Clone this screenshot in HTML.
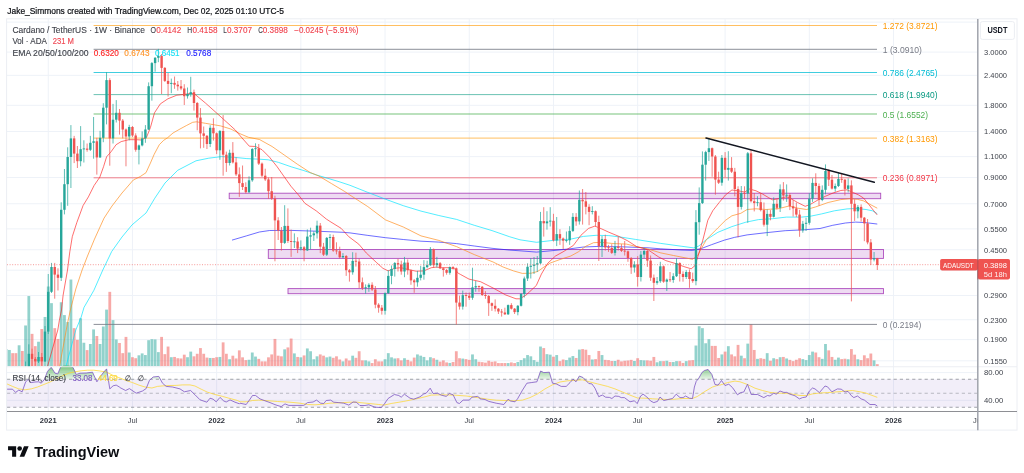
<!DOCTYPE html>
<html lang="en"><head><meta charset="utf-8"><title>ADAUSDT 1W chart</title>
<style>html,body{margin:0;padding:0;background:#fff}body{width:1024px;height:473px;overflow:hidden}svg{display:block}</style>
</head><body>
<svg width="1024" height="473" viewBox="0 0 1024 473" font-family='"Liberation Sans", sans-serif' shape-rendering="auto">
<defs>
<clipPath id="cpMain"><rect x="7" y="19.2" width="970.2" height="347.3"/></clipPath>
<clipPath id="cpRsi"><rect x="7" y="367" width="970.2" height="44"/></clipPath>
<clipPath id="cpOB"><rect x="7" y="360" width="970.2" height="19.25"/></clipPath>
<clipPath id="cpTime"><rect x="7" y="412" width="970.2" height="18"/></clipPath>
<linearGradient id="gOB" x1="0" y1="366" x2="0" y2="379.25" gradientUnits="userSpaceOnUse"><stop offset="0" stop-color="#4caf50" stop-opacity="0.75"/><stop offset="1" stop-color="#4caf50" stop-opacity="0.12"/></linearGradient>
</defs>
<rect width="1024" height="473" fill="#ffffff"/>
<line x1="48.25" y1="19.2" x2="48.25" y2="411" stroke="#eef2f8" stroke-width="1"/>
<line x1="132.45" y1="19.2" x2="132.45" y2="411" stroke="#eef2f8" stroke-width="1"/>
<line x1="216.65" y1="19.2" x2="216.65" y2="411" stroke="#eef2f8" stroke-width="1"/>
<line x1="300.85" y1="19.2" x2="300.85" y2="411" stroke="#eef2f8" stroke-width="1"/>
<line x1="385.05" y1="19.2" x2="385.05" y2="411" stroke="#eef2f8" stroke-width="1"/>
<line x1="469.25" y1="19.2" x2="469.25" y2="411" stroke="#eef2f8" stroke-width="1"/>
<line x1="553.46" y1="19.2" x2="553.46" y2="411" stroke="#eef2f8" stroke-width="1"/>
<line x1="637.66" y1="19.2" x2="637.66" y2="411" stroke="#eef2f8" stroke-width="1"/>
<line x1="725.10" y1="19.2" x2="725.10" y2="411" stroke="#eef2f8" stroke-width="1"/>
<line x1="809.30" y1="19.2" x2="809.30" y2="411" stroke="#eef2f8" stroke-width="1"/>
<line x1="893.50" y1="19.2" x2="893.50" y2="411" stroke="#eef2f8" stroke-width="1"/>
<line x1="7" y1="22.12" x2="977" y2="22.12" stroke="#eef2f8" stroke-width="1"/>
<line x1="7" y1="52.10" x2="977" y2="52.10" stroke="#eef2f8" stroke-width="1"/>
<line x1="7" y1="75.35" x2="977" y2="75.35" stroke="#eef2f8" stroke-width="1"/>
<line x1="7" y1="105.33" x2="977" y2="105.33" stroke="#eef2f8" stroke-width="1"/>
<line x1="7" y1="131.51" x2="977" y2="131.51" stroke="#eef2f8" stroke-width="1"/>
<line x1="7" y1="156.64" x2="977" y2="156.64" stroke="#eef2f8" stroke-width="1"/>
<line x1="7" y1="177.55" x2="977" y2="177.55" stroke="#eef2f8" stroke-width="1"/>
<line x1="7" y1="203.74" x2="977" y2="203.74" stroke="#eef2f8" stroke-width="1"/>
<line x1="7" y1="228.87" x2="977" y2="228.87" stroke="#eef2f8" stroke-width="1"/>
<line x1="7" y1="249.78" x2="977" y2="249.78" stroke="#eef2f8" stroke-width="1"/>
<line x1="7" y1="270.18" x2="977" y2="270.18" stroke="#eef2f8" stroke-width="1"/>
<line x1="7" y1="295.56" x2="977" y2="295.56" stroke="#eef2f8" stroke-width="1"/>
<line x1="7" y1="319.72" x2="977" y2="319.72" stroke="#eef2f8" stroke-width="1"/>
<line x1="7" y1="339.62" x2="977" y2="339.62" stroke="#eef2f8" stroke-width="1"/>
<line x1="7" y1="360.84" x2="977" y2="360.84" stroke="#eef2f8" stroke-width="1"/>
<line x1="7" y1="372.6" x2="977" y2="372.6" stroke="#eef2f8" stroke-width="1"/>
<line x1="7" y1="400.3" x2="977" y2="400.3" stroke="#eef2f8" stroke-width="1"/>
<rect x="7" y="379.25" width="970.2" height="28" fill="#7e57c2" fill-opacity="0.1"/>
<line x1="7" y1="379.25" x2="977" y2="379.25" stroke="#8a8d96" stroke-width="0.8" stroke-dasharray="3.2 3"/>
<line x1="7" y1="393.25" x2="977" y2="393.25" stroke="#a9abb3" stroke-width="0.8" stroke-dasharray="3.2 3"/>
<line x1="7" y1="407.25" x2="977" y2="407.25" stroke="#8a8d96" stroke-width="0.8" stroke-dasharray="3.2 3"/>
<g clip-path="url(#cpMain)">
<rect x="4.75" y="349.09" width="2.8" height="17.11" fill="#26a69a" fill-opacity="0.5"/>
<rect x="7.99" y="349.97" width="2.8" height="16.23" fill="#26a69a" fill-opacity="0.5"/>
<rect x="11.23" y="353.15" width="2.8" height="13.05" fill="#ef5350" fill-opacity="0.5"/>
<rect x="14.46" y="353.15" width="2.8" height="13.05" fill="#ef5350" fill-opacity="0.5"/>
<rect x="17.70" y="345.28" width="2.8" height="20.92" fill="#26a69a" fill-opacity="0.5"/>
<rect x="20.94" y="350.99" width="2.8" height="15.21" fill="#ef5350" fill-opacity="0.5"/>
<rect x="24.18" y="325.48" width="2.8" height="40.72" fill="#26a69a" fill-opacity="0.5"/>
<rect x="27.42" y="296.04" width="2.8" height="70.16" fill="#26a69a" fill-opacity="0.5"/>
<rect x="30.66" y="333.86" width="2.8" height="32.34" fill="#ef5350" fill-opacity="0.5"/>
<rect x="33.90" y="346.17" width="2.8" height="20.03" fill="#ef5350" fill-opacity="0.5"/>
<rect x="37.13" y="341.73" width="2.8" height="24.47" fill="#26a69a" fill-opacity="0.5"/>
<rect x="40.37" y="329.04" width="2.8" height="37.16" fill="#ef5350" fill-opacity="0.5"/>
<rect x="43.61" y="316.98" width="2.8" height="49.22" fill="#26a69a" fill-opacity="0.5"/>
<rect x="46.85" y="286.52" width="2.8" height="79.68" fill="#26a69a" fill-opacity="0.5"/>
<rect x="50.09" y="303.15" width="2.8" height="63.05" fill="#26a69a" fill-opacity="0.5"/>
<rect x="53.33" y="328.15" width="2.8" height="38.05" fill="#ef5350" fill-opacity="0.5"/>
<rect x="56.57" y="338.93" width="2.8" height="27.27" fill="#ef5350" fill-opacity="0.5"/>
<rect x="59.80" y="302.26" width="2.8" height="63.94" fill="#26a69a" fill-opacity="0.5"/>
<rect x="63.04" y="315.08" width="2.8" height="51.12" fill="#26a69a" fill-opacity="0.5"/>
<rect x="66.28" y="322.06" width="2.8" height="44.14" fill="#26a69a" fill-opacity="0.5"/>
<rect x="69.52" y="279.54" width="2.8" height="86.66" fill="#26a69a" fill-opacity="0.5"/>
<rect x="72.76" y="328.15" width="2.8" height="38.05" fill="#ef5350" fill-opacity="0.5"/>
<rect x="76.00" y="339.82" width="2.8" height="26.38" fill="#ef5350" fill-opacity="0.5"/>
<rect x="79.23" y="318.25" width="2.8" height="47.95" fill="#26a69a" fill-opacity="0.5"/>
<rect x="82.47" y="342.74" width="2.8" height="23.46" fill="#26a69a" fill-opacity="0.5"/>
<rect x="85.71" y="350.10" width="2.8" height="16.10" fill="#ef5350" fill-opacity="0.5"/>
<rect x="88.95" y="344.01" width="2.8" height="22.19" fill="#26a69a" fill-opacity="0.5"/>
<rect x="92.19" y="329.42" width="2.8" height="36.78" fill="#26a69a" fill-opacity="0.5"/>
<rect x="95.43" y="336.02" width="2.8" height="30.18" fill="#ef5350" fill-opacity="0.5"/>
<rect x="98.67" y="344.01" width="2.8" height="22.19" fill="#26a69a" fill-opacity="0.5"/>
<rect x="101.90" y="326.50" width="2.8" height="39.70" fill="#26a69a" fill-opacity="0.5"/>
<rect x="105.14" y="309.62" width="2.8" height="56.58" fill="#26a69a" fill-opacity="0.5"/>
<rect x="108.38" y="291.85" width="2.8" height="74.35" fill="#ef5350" fill-opacity="0.5"/>
<rect x="111.62" y="320.15" width="2.8" height="46.05" fill="#26a69a" fill-opacity="0.5"/>
<rect x="114.86" y="339.44" width="2.8" height="26.76" fill="#26a69a" fill-opacity="0.5"/>
<rect x="118.10" y="342.99" width="2.8" height="23.21" fill="#ef5350" fill-opacity="0.5"/>
<rect x="121.34" y="353.15" width="2.8" height="13.05" fill="#ef5350" fill-opacity="0.5"/>
<rect x="124.57" y="336.90" width="2.8" height="29.30" fill="#ef5350" fill-opacity="0.5"/>
<rect x="127.81" y="352.51" width="2.8" height="13.69" fill="#26a69a" fill-opacity="0.5"/>
<rect x="131.05" y="357.21" width="2.8" height="8.99" fill="#ef5350" fill-opacity="0.5"/>
<rect x="134.29" y="358.22" width="2.8" height="7.98" fill="#ef5350" fill-opacity="0.5"/>
<rect x="137.53" y="355.30" width="2.8" height="10.90" fill="#26a69a" fill-opacity="0.5"/>
<rect x="140.77" y="353.40" width="2.8" height="12.80" fill="#26a69a" fill-opacity="0.5"/>
<rect x="144.00" y="355.05" width="2.8" height="11.15" fill="#26a69a" fill-opacity="0.5"/>
<rect x="147.24" y="340.20" width="2.8" height="26.00" fill="#26a69a" fill-opacity="0.5"/>
<rect x="150.48" y="339.19" width="2.8" height="27.01" fill="#26a69a" fill-opacity="0.5"/>
<rect x="153.72" y="339.44" width="2.8" height="26.76" fill="#26a69a" fill-opacity="0.5"/>
<rect x="156.96" y="352.13" width="2.8" height="14.07" fill="#26a69a" fill-opacity="0.5"/>
<rect x="160.20" y="336.90" width="2.8" height="29.30" fill="#ef5350" fill-opacity="0.5"/>
<rect x="163.44" y="354.16" width="2.8" height="12.04" fill="#ef5350" fill-opacity="0.5"/>
<rect x="166.67" y="346.55" width="2.8" height="19.65" fill="#ef5350" fill-opacity="0.5"/>
<rect x="169.91" y="357.21" width="2.8" height="8.99" fill="#26a69a" fill-opacity="0.5"/>
<rect x="173.15" y="356.95" width="2.8" height="9.25" fill="#ef5350" fill-opacity="0.5"/>
<rect x="176.39" y="358.22" width="2.8" height="7.98" fill="#ef5350" fill-opacity="0.5"/>
<rect x="179.63" y="358.48" width="2.8" height="7.72" fill="#ef5350" fill-opacity="0.5"/>
<rect x="182.87" y="354.67" width="2.8" height="11.53" fill="#ef5350" fill-opacity="0.5"/>
<rect x="186.11" y="357.21" width="2.8" height="8.99" fill="#26a69a" fill-opacity="0.5"/>
<rect x="189.34" y="351.62" width="2.8" height="14.58" fill="#26a69a" fill-opacity="0.5"/>
<rect x="192.58" y="356.32" width="2.8" height="9.88" fill="#ef5350" fill-opacity="0.5"/>
<rect x="195.82" y="353.78" width="2.8" height="12.42" fill="#ef5350" fill-opacity="0.5"/>
<rect x="199.06" y="348.07" width="2.8" height="18.13" fill="#ef5350" fill-opacity="0.5"/>
<rect x="202.30" y="353.78" width="2.8" height="12.42" fill="#ef5350" fill-opacity="0.5"/>
<rect x="205.54" y="357.59" width="2.8" height="8.61" fill="#ef5350" fill-opacity="0.5"/>
<rect x="208.78" y="357.97" width="2.8" height="8.23" fill="#26a69a" fill-opacity="0.5"/>
<rect x="212.01" y="357.97" width="2.8" height="8.23" fill="#ef5350" fill-opacity="0.5"/>
<rect x="215.25" y="357.21" width="2.8" height="8.99" fill="#ef5350" fill-opacity="0.5"/>
<rect x="218.49" y="356.95" width="2.8" height="9.25" fill="#26a69a" fill-opacity="0.5"/>
<rect x="221.73" y="342.36" width="2.8" height="23.84" fill="#ef5350" fill-opacity="0.5"/>
<rect x="224.97" y="353.78" width="2.8" height="12.42" fill="#ef5350" fill-opacity="0.5"/>
<rect x="228.21" y="359.24" width="2.8" height="6.96" fill="#26a69a" fill-opacity="0.5"/>
<rect x="231.44" y="355.69" width="2.8" height="10.51" fill="#ef5350" fill-opacity="0.5"/>
<rect x="234.68" y="358.48" width="2.8" height="7.72" fill="#ef5350" fill-opacity="0.5"/>
<rect x="237.92" y="350.36" width="2.8" height="15.84" fill="#ef5350" fill-opacity="0.5"/>
<rect x="241.16" y="357.34" width="2.8" height="8.86" fill="#ef5350" fill-opacity="0.5"/>
<rect x="244.40" y="360.13" width="2.8" height="6.07" fill="#ef5350" fill-opacity="0.5"/>
<rect x="247.64" y="359.75" width="2.8" height="6.45" fill="#26a69a" fill-opacity="0.5"/>
<rect x="250.88" y="352.51" width="2.8" height="13.69" fill="#26a69a" fill-opacity="0.5"/>
<rect x="254.11" y="356.57" width="2.8" height="9.63" fill="#26a69a" fill-opacity="0.5"/>
<rect x="257.35" y="358.86" width="2.8" height="7.34" fill="#ef5350" fill-opacity="0.5"/>
<rect x="260.59" y="361.40" width="2.8" height="4.80" fill="#ef5350" fill-opacity="0.5"/>
<rect x="263.83" y="361.40" width="2.8" height="4.80" fill="#ef5350" fill-opacity="0.5"/>
<rect x="267.07" y="357.34" width="2.8" height="8.86" fill="#ef5350" fill-opacity="0.5"/>
<rect x="270.31" y="354.42" width="2.8" height="11.78" fill="#ef5350" fill-opacity="0.5"/>
<rect x="273.55" y="338.93" width="2.8" height="27.27" fill="#ef5350" fill-opacity="0.5"/>
<rect x="276.78" y="355.69" width="2.8" height="10.51" fill="#ef5350" fill-opacity="0.5"/>
<rect x="280.02" y="356.32" width="2.8" height="9.88" fill="#ef5350" fill-opacity="0.5"/>
<rect x="283.26" y="349.34" width="2.8" height="16.86" fill="#26a69a" fill-opacity="0.5"/>
<rect x="286.50" y="347.44" width="2.8" height="18.76" fill="#ef5350" fill-opacity="0.5"/>
<rect x="289.74" y="338.55" width="2.8" height="27.65" fill="#ef5350" fill-opacity="0.5"/>
<rect x="292.98" y="353.40" width="2.8" height="12.80" fill="#26a69a" fill-opacity="0.5"/>
<rect x="296.21" y="356.95" width="2.8" height="9.25" fill="#ef5350" fill-opacity="0.5"/>
<rect x="299.45" y="357.34" width="2.8" height="8.86" fill="#26a69a" fill-opacity="0.5"/>
<rect x="302.69" y="355.43" width="2.8" height="10.77" fill="#ef5350" fill-opacity="0.5"/>
<rect x="305.93" y="348.45" width="2.8" height="17.75" fill="#26a69a" fill-opacity="0.5"/>
<rect x="309.17" y="351.24" width="2.8" height="14.96" fill="#26a69a" fill-opacity="0.5"/>
<rect x="312.41" y="359.24" width="2.8" height="6.96" fill="#26a69a" fill-opacity="0.5"/>
<rect x="315.65" y="356.32" width="2.8" height="9.88" fill="#26a69a" fill-opacity="0.5"/>
<rect x="318.88" y="354.42" width="2.8" height="11.78" fill="#ef5350" fill-opacity="0.5"/>
<rect x="322.12" y="355.69" width="2.8" height="10.51" fill="#ef5350" fill-opacity="0.5"/>
<rect x="325.36" y="357.34" width="2.8" height="8.86" fill="#26a69a" fill-opacity="0.5"/>
<rect x="328.60" y="356.57" width="2.8" height="9.63" fill="#26a69a" fill-opacity="0.5"/>
<rect x="331.84" y="357.84" width="2.8" height="8.36" fill="#ef5350" fill-opacity="0.5"/>
<rect x="335.08" y="356.32" width="2.8" height="9.88" fill="#ef5350" fill-opacity="0.5"/>
<rect x="338.32" y="359.49" width="2.8" height="6.71" fill="#ef5350" fill-opacity="0.5"/>
<rect x="341.55" y="361.40" width="2.8" height="4.80" fill="#26a69a" fill-opacity="0.5"/>
<rect x="344.79" y="358.48" width="2.8" height="7.72" fill="#ef5350" fill-opacity="0.5"/>
<rect x="348.03" y="360.51" width="2.8" height="5.69" fill="#ef5350" fill-opacity="0.5"/>
<rect x="351.27" y="355.69" width="2.8" height="10.51" fill="#26a69a" fill-opacity="0.5"/>
<rect x="354.51" y="357.84" width="2.8" height="8.36" fill="#ef5350" fill-opacity="0.5"/>
<rect x="357.75" y="351.24" width="2.8" height="14.96" fill="#ef5350" fill-opacity="0.5"/>
<rect x="360.98" y="360.38" width="2.8" height="5.82" fill="#ef5350" fill-opacity="0.5"/>
<rect x="364.22" y="360.38" width="2.8" height="5.82" fill="#26a69a" fill-opacity="0.5"/>
<rect x="367.46" y="361.40" width="2.8" height="4.80" fill="#26a69a" fill-opacity="0.5"/>
<rect x="370.70" y="363.05" width="2.8" height="3.15" fill="#ef5350" fill-opacity="0.5"/>
<rect x="373.94" y="359.24" width="2.8" height="6.96" fill="#ef5350" fill-opacity="0.5"/>
<rect x="377.18" y="361.40" width="2.8" height="4.80" fill="#ef5350" fill-opacity="0.5"/>
<rect x="380.42" y="361.40" width="2.8" height="4.80" fill="#ef5350" fill-opacity="0.5"/>
<rect x="383.65" y="359.24" width="2.8" height="6.96" fill="#26a69a" fill-opacity="0.5"/>
<rect x="386.89" y="353.15" width="2.8" height="13.05" fill="#26a69a" fill-opacity="0.5"/>
<rect x="390.13" y="357.34" width="2.8" height="8.86" fill="#26a69a" fill-opacity="0.5"/>
<rect x="393.37" y="358.48" width="2.8" height="7.72" fill="#26a69a" fill-opacity="0.5"/>
<rect x="396.61" y="358.22" width="2.8" height="7.98" fill="#ef5350" fill-opacity="0.5"/>
<rect x="399.85" y="360.38" width="2.8" height="5.82" fill="#ef5350" fill-opacity="0.5"/>
<rect x="403.09" y="358.22" width="2.8" height="7.98" fill="#26a69a" fill-opacity="0.5"/>
<rect x="406.32" y="359.87" width="2.8" height="6.33" fill="#ef5350" fill-opacity="0.5"/>
<rect x="409.56" y="361.40" width="2.8" height="4.80" fill="#ef5350" fill-opacity="0.5"/>
<rect x="412.80" y="357.59" width="2.8" height="8.61" fill="#ef5350" fill-opacity="0.5"/>
<rect x="416.04" y="354.42" width="2.8" height="11.78" fill="#26a69a" fill-opacity="0.5"/>
<rect x="419.28" y="355.69" width="2.8" height="10.51" fill="#26a69a" fill-opacity="0.5"/>
<rect x="422.52" y="356.95" width="2.8" height="9.25" fill="#26a69a" fill-opacity="0.5"/>
<rect x="425.75" y="360.38" width="2.8" height="5.82" fill="#26a69a" fill-opacity="0.5"/>
<rect x="428.99" y="357.21" width="2.8" height="8.99" fill="#26a69a" fill-opacity="0.5"/>
<rect x="432.23" y="358.22" width="2.8" height="7.98" fill="#ef5350" fill-opacity="0.5"/>
<rect x="435.47" y="359.75" width="2.8" height="6.45" fill="#26a69a" fill-opacity="0.5"/>
<rect x="438.71" y="361.65" width="2.8" height="4.55" fill="#ef5350" fill-opacity="0.5"/>
<rect x="441.95" y="360.38" width="2.8" height="5.82" fill="#ef5350" fill-opacity="0.5"/>
<rect x="445.19" y="362.41" width="2.8" height="3.79" fill="#ef5350" fill-opacity="0.5"/>
<rect x="448.42" y="362.92" width="2.8" height="3.28" fill="#26a69a" fill-opacity="0.5"/>
<rect x="451.66" y="362.03" width="2.8" height="4.17" fill="#ef5350" fill-opacity="0.5"/>
<rect x="454.90" y="351.24" width="2.8" height="14.96" fill="#ef5350" fill-opacity="0.5"/>
<rect x="458.14" y="358.22" width="2.8" height="7.98" fill="#ef5350" fill-opacity="0.5"/>
<rect x="461.38" y="358.60" width="2.8" height="7.60" fill="#26a69a" fill-opacity="0.5"/>
<rect x="464.62" y="359.11" width="2.8" height="7.09" fill="#ef5350" fill-opacity="0.5"/>
<rect x="467.86" y="359.87" width="2.8" height="6.33" fill="#ef5350" fill-opacity="0.5"/>
<rect x="471.09" y="354.42" width="2.8" height="11.78" fill="#26a69a" fill-opacity="0.5"/>
<rect x="474.33" y="359.24" width="2.8" height="6.96" fill="#26a69a" fill-opacity="0.5"/>
<rect x="477.57" y="361.78" width="2.8" height="4.42" fill="#ef5350" fill-opacity="0.5"/>
<rect x="480.81" y="362.16" width="2.8" height="4.04" fill="#ef5350" fill-opacity="0.5"/>
<rect x="484.05" y="362.66" width="2.8" height="3.54" fill="#ef5350" fill-opacity="0.5"/>
<rect x="487.29" y="360.76" width="2.8" height="5.44" fill="#ef5350" fill-opacity="0.5"/>
<rect x="490.52" y="361.78" width="2.8" height="4.42" fill="#ef5350" fill-opacity="0.5"/>
<rect x="493.76" y="361.40" width="2.8" height="4.80" fill="#ef5350" fill-opacity="0.5"/>
<rect x="497.00" y="363.05" width="2.8" height="3.15" fill="#ef5350" fill-opacity="0.5"/>
<rect x="500.24" y="363.05" width="2.8" height="3.15" fill="#ef5350" fill-opacity="0.5"/>
<rect x="503.48" y="363.05" width="2.8" height="3.15" fill="#ef5350" fill-opacity="0.5"/>
<rect x="506.72" y="363.05" width="2.8" height="3.15" fill="#26a69a" fill-opacity="0.5"/>
<rect x="509.96" y="362.41" width="2.8" height="3.79" fill="#ef5350" fill-opacity="0.5"/>
<rect x="513.19" y="363.05" width="2.8" height="3.15" fill="#ef5350" fill-opacity="0.5"/>
<rect x="516.43" y="362.03" width="2.8" height="4.17" fill="#26a69a" fill-opacity="0.5"/>
<rect x="519.67" y="360.13" width="2.8" height="6.07" fill="#26a69a" fill-opacity="0.5"/>
<rect x="522.91" y="358.22" width="2.8" height="7.98" fill="#26a69a" fill-opacity="0.5"/>
<rect x="526.15" y="355.05" width="2.8" height="11.15" fill="#26a69a" fill-opacity="0.5"/>
<rect x="529.39" y="356.32" width="2.8" height="9.88" fill="#26a69a" fill-opacity="0.5"/>
<rect x="532.63" y="360.13" width="2.8" height="6.07" fill="#26a69a" fill-opacity="0.5"/>
<rect x="535.86" y="361.78" width="2.8" height="4.42" fill="#26a69a" fill-opacity="0.5"/>
<rect x="539.10" y="346.55" width="2.8" height="19.65" fill="#26a69a" fill-opacity="0.5"/>
<rect x="542.34" y="348.07" width="2.8" height="18.13" fill="#ef5350" fill-opacity="0.5"/>
<rect x="545.58" y="354.16" width="2.8" height="12.04" fill="#26a69a" fill-opacity="0.5"/>
<rect x="548.82" y="354.67" width="2.8" height="11.53" fill="#26a69a" fill-opacity="0.5"/>
<rect x="552.06" y="356.70" width="2.8" height="9.50" fill="#ef5350" fill-opacity="0.5"/>
<rect x="555.29" y="355.05" width="2.8" height="11.15" fill="#26a69a" fill-opacity="0.5"/>
<rect x="558.53" y="361.14" width="2.8" height="5.06" fill="#ef5350" fill-opacity="0.5"/>
<rect x="561.77" y="359.49" width="2.8" height="6.71" fill="#ef5350" fill-opacity="0.5"/>
<rect x="565.01" y="360.13" width="2.8" height="6.07" fill="#26a69a" fill-opacity="0.5"/>
<rect x="568.25" y="357.59" width="2.8" height="8.61" fill="#26a69a" fill-opacity="0.5"/>
<rect x="571.49" y="356.07" width="2.8" height="10.13" fill="#26a69a" fill-opacity="0.5"/>
<rect x="574.73" y="357.97" width="2.8" height="8.23" fill="#ef5350" fill-opacity="0.5"/>
<rect x="577.96" y="349.59" width="2.8" height="16.61" fill="#26a69a" fill-opacity="0.5"/>
<rect x="581.20" y="349.09" width="2.8" height="17.11" fill="#ef5350" fill-opacity="0.5"/>
<rect x="584.44" y="349.72" width="2.8" height="16.48" fill="#ef5350" fill-opacity="0.5"/>
<rect x="587.68" y="355.05" width="2.8" height="11.15" fill="#ef5350" fill-opacity="0.5"/>
<rect x="590.92" y="359.49" width="2.8" height="6.71" fill="#26a69a" fill-opacity="0.5"/>
<rect x="594.16" y="359.11" width="2.8" height="7.09" fill="#ef5350" fill-opacity="0.5"/>
<rect x="597.40" y="350.99" width="2.8" height="15.21" fill="#ef5350" fill-opacity="0.5"/>
<rect x="600.63" y="355.05" width="2.8" height="11.15" fill="#26a69a" fill-opacity="0.5"/>
<rect x="603.87" y="359.87" width="2.8" height="6.33" fill="#ef5350" fill-opacity="0.5"/>
<rect x="607.11" y="360.13" width="2.8" height="6.07" fill="#ef5350" fill-opacity="0.5"/>
<rect x="610.35" y="361.02" width="2.8" height="5.18" fill="#ef5350" fill-opacity="0.5"/>
<rect x="613.59" y="361.02" width="2.8" height="5.18" fill="#26a69a" fill-opacity="0.5"/>
<rect x="616.83" y="359.75" width="2.8" height="6.45" fill="#ef5350" fill-opacity="0.5"/>
<rect x="620.06" y="361.40" width="2.8" height="4.80" fill="#ef5350" fill-opacity="0.5"/>
<rect x="623.30" y="360.76" width="2.8" height="5.44" fill="#ef5350" fill-opacity="0.5"/>
<rect x="626.54" y="360.51" width="2.8" height="5.69" fill="#ef5350" fill-opacity="0.5"/>
<rect x="629.78" y="359.87" width="2.8" height="6.33" fill="#ef5350" fill-opacity="0.5"/>
<rect x="633.02" y="361.02" width="2.8" height="5.18" fill="#26a69a" fill-opacity="0.5"/>
<rect x="636.26" y="358.22" width="2.8" height="7.98" fill="#ef5350" fill-opacity="0.5"/>
<rect x="639.50" y="360.13" width="2.8" height="6.07" fill="#26a69a" fill-opacity="0.5"/>
<rect x="642.73" y="360.38" width="2.8" height="5.82" fill="#26a69a" fill-opacity="0.5"/>
<rect x="645.97" y="360.38" width="2.8" height="5.82" fill="#ef5350" fill-opacity="0.5"/>
<rect x="649.21" y="360.76" width="2.8" height="5.44" fill="#ef5350" fill-opacity="0.5"/>
<rect x="652.45" y="356.95" width="2.8" height="9.25" fill="#ef5350" fill-opacity="0.5"/>
<rect x="655.69" y="362.28" width="2.8" height="3.92" fill="#26a69a" fill-opacity="0.5"/>
<rect x="658.93" y="361.14" width="2.8" height="5.06" fill="#26a69a" fill-opacity="0.5"/>
<rect x="662.17" y="361.14" width="2.8" height="5.06" fill="#ef5350" fill-opacity="0.5"/>
<rect x="665.40" y="360.76" width="2.8" height="5.44" fill="#26a69a" fill-opacity="0.5"/>
<rect x="668.64" y="362.03" width="2.8" height="4.17" fill="#ef5350" fill-opacity="0.5"/>
<rect x="671.88" y="362.03" width="2.8" height="4.17" fill="#26a69a" fill-opacity="0.5"/>
<rect x="675.12" y="361.14" width="2.8" height="5.06" fill="#26a69a" fill-opacity="0.5"/>
<rect x="678.36" y="361.14" width="2.8" height="5.06" fill="#ef5350" fill-opacity="0.5"/>
<rect x="681.60" y="362.92" width="2.8" height="3.28" fill="#ef5350" fill-opacity="0.5"/>
<rect x="684.83" y="361.14" width="2.8" height="5.06" fill="#26a69a" fill-opacity="0.5"/>
<rect x="688.07" y="360.38" width="2.8" height="5.82" fill="#ef5350" fill-opacity="0.5"/>
<rect x="691.31" y="360.13" width="2.8" height="6.07" fill="#ef5350" fill-opacity="0.5"/>
<rect x="694.55" y="345.53" width="2.8" height="20.67" fill="#26a69a" fill-opacity="0.5"/>
<rect x="697.79" y="326.24" width="2.8" height="39.96" fill="#26a69a" fill-opacity="0.5"/>
<rect x="701.03" y="328.15" width="2.8" height="38.05" fill="#26a69a" fill-opacity="0.5"/>
<rect x="704.27" y="343.25" width="2.8" height="22.95" fill="#26a69a" fill-opacity="0.5"/>
<rect x="707.50" y="339.19" width="2.8" height="27.01" fill="#26a69a" fill-opacity="0.5"/>
<rect x="710.74" y="345.91" width="2.8" height="20.29" fill="#ef5350" fill-opacity="0.5"/>
<rect x="713.98" y="345.91" width="2.8" height="20.29" fill="#ef5350" fill-opacity="0.5"/>
<rect x="717.22" y="357.97" width="2.8" height="8.23" fill="#ef5350" fill-opacity="0.5"/>
<rect x="720.46" y="354.42" width="2.8" height="11.78" fill="#26a69a" fill-opacity="0.5"/>
<rect x="723.70" y="351.62" width="2.8" height="14.58" fill="#ef5350" fill-opacity="0.5"/>
<rect x="726.94" y="346.17" width="2.8" height="20.03" fill="#26a69a" fill-opacity="0.5"/>
<rect x="730.17" y="354.42" width="2.8" height="11.78" fill="#ef5350" fill-opacity="0.5"/>
<rect x="733.41" y="356.32" width="2.8" height="9.88" fill="#ef5350" fill-opacity="0.5"/>
<rect x="736.65" y="344.90" width="2.8" height="21.30" fill="#ef5350" fill-opacity="0.5"/>
<rect x="739.89" y="355.69" width="2.8" height="10.51" fill="#26a69a" fill-opacity="0.5"/>
<rect x="743.13" y="358.22" width="2.8" height="7.98" fill="#ef5350" fill-opacity="0.5"/>
<rect x="746.37" y="343.63" width="2.8" height="22.57" fill="#26a69a" fill-opacity="0.5"/>
<rect x="749.60" y="324.21" width="2.8" height="41.99" fill="#ef5350" fill-opacity="0.5"/>
<rect x="752.84" y="349.97" width="2.8" height="16.23" fill="#ef5350" fill-opacity="0.5"/>
<rect x="756.08" y="358.86" width="2.8" height="7.34" fill="#26a69a" fill-opacity="0.5"/>
<rect x="759.32" y="358.22" width="2.8" height="7.98" fill="#ef5350" fill-opacity="0.5"/>
<rect x="762.56" y="358.86" width="2.8" height="7.34" fill="#ef5350" fill-opacity="0.5"/>
<rect x="765.80" y="353.15" width="2.8" height="13.05" fill="#26a69a" fill-opacity="0.5"/>
<rect x="769.04" y="360.76" width="2.8" height="5.44" fill="#ef5350" fill-opacity="0.5"/>
<rect x="772.27" y="358.22" width="2.8" height="7.98" fill="#26a69a" fill-opacity="0.5"/>
<rect x="775.51" y="359.11" width="2.8" height="7.09" fill="#ef5350" fill-opacity="0.5"/>
<rect x="778.75" y="357.21" width="2.8" height="8.99" fill="#26a69a" fill-opacity="0.5"/>
<rect x="781.99" y="356.95" width="2.8" height="9.25" fill="#ef5350" fill-opacity="0.5"/>
<rect x="785.23" y="358.48" width="2.8" height="7.72" fill="#26a69a" fill-opacity="0.5"/>
<rect x="788.47" y="359.87" width="2.8" height="6.33" fill="#ef5350" fill-opacity="0.5"/>
<rect x="791.71" y="361.14" width="2.8" height="5.06" fill="#ef5350" fill-opacity="0.5"/>
<rect x="794.94" y="359.75" width="2.8" height="6.45" fill="#ef5350" fill-opacity="0.5"/>
<rect x="798.18" y="358.22" width="2.8" height="7.98" fill="#ef5350" fill-opacity="0.5"/>
<rect x="801.42" y="359.11" width="2.8" height="7.09" fill="#26a69a" fill-opacity="0.5"/>
<rect x="804.66" y="360.13" width="2.8" height="6.07" fill="#26a69a" fill-opacity="0.5"/>
<rect x="807.90" y="355.05" width="2.8" height="11.15" fill="#26a69a" fill-opacity="0.5"/>
<rect x="811.14" y="351.62" width="2.8" height="14.58" fill="#26a69a" fill-opacity="0.5"/>
<rect x="814.37" y="352.51" width="2.8" height="13.69" fill="#ef5350" fill-opacity="0.5"/>
<rect x="817.61" y="357.21" width="2.8" height="8.99" fill="#ef5350" fill-opacity="0.5"/>
<rect x="820.85" y="358.86" width="2.8" height="7.34" fill="#26a69a" fill-opacity="0.5"/>
<rect x="824.09" y="344.01" width="2.8" height="22.19" fill="#26a69a" fill-opacity="0.5"/>
<rect x="827.33" y="350.36" width="2.8" height="15.84" fill="#ef5350" fill-opacity="0.5"/>
<rect x="830.57" y="356.95" width="2.8" height="9.25" fill="#ef5350" fill-opacity="0.5"/>
<rect x="833.81" y="359.75" width="2.8" height="6.45" fill="#26a69a" fill-opacity="0.5"/>
<rect x="837.04" y="357.59" width="2.8" height="8.61" fill="#26a69a" fill-opacity="0.5"/>
<rect x="840.28" y="359.11" width="2.8" height="7.09" fill="#ef5350" fill-opacity="0.5"/>
<rect x="843.52" y="358.73" width="2.8" height="7.47" fill="#ef5350" fill-opacity="0.5"/>
<rect x="846.76" y="359.24" width="2.8" height="6.96" fill="#26a69a" fill-opacity="0.5"/>
<rect x="850.00" y="349.09" width="2.8" height="17.11" fill="#ef5350" fill-opacity="0.5"/>
<rect x="853.24" y="354.67" width="2.8" height="11.53" fill="#ef5350" fill-opacity="0.5"/>
<rect x="856.48" y="359.24" width="2.8" height="6.96" fill="#26a69a" fill-opacity="0.5"/>
<rect x="859.71" y="360.13" width="2.8" height="6.07" fill="#ef5350" fill-opacity="0.5"/>
<rect x="862.95" y="355.30" width="2.8" height="10.90" fill="#ef5350" fill-opacity="0.5"/>
<rect x="866.19" y="358.22" width="2.8" height="7.98" fill="#ef5350" fill-opacity="0.5"/>
<rect x="869.43" y="353.53" width="2.8" height="12.67" fill="#ef5350" fill-opacity="0.5"/>
<rect x="872.67" y="360.38" width="2.8" height="5.82" fill="#26a69a" fill-opacity="0.5"/>
<rect x="875.91" y="364.19" width="2.8" height="2.01" fill="#ef5350" fill-opacity="0.5"/>
<line x1="93.6" y1="25.50" x2="877" y2="25.50" stroke="#ff9800" stroke-width="1.0" stroke-opacity="0.62"/>
<line x1="93.6" y1="49.30" x2="877" y2="49.30" stroke="#787b86" stroke-width="1.0" stroke-opacity="0.85"/>
<line x1="93.6" y1="72.50" x2="877" y2="72.50" stroke="#00bcd4" stroke-width="1.0" stroke-opacity="0.75"/>
<line x1="93.6" y1="94.60" x2="877" y2="94.60" stroke="#089981" stroke-width="1.0" stroke-opacity="0.6"/>
<line x1="93.6" y1="114.00" x2="877" y2="114.00" stroke="#4caf50" stroke-width="1.5" stroke-opacity="0.5"/>
<line x1="93.6" y1="138.10" x2="877" y2="138.10" stroke="#ff9800" stroke-width="1.0" stroke-opacity="0.62"/>
<line x1="93.6" y1="177.80" x2="877" y2="177.80" stroke="#f23645" stroke-width="1.0" stroke-opacity="0.62"/>
<line x1="93.6" y1="324.40" x2="877" y2="324.40" stroke="#787b86" stroke-width="1.0" stroke-opacity="0.85"/>
<rect x="229.2" y="193.2" width="651.5" height="5.5" fill="#9c27b0" fill-opacity="0.17" stroke="#9c27b0" stroke-opacity="0.8" stroke-width="0.9"/>
<rect x="268.3" y="249.5" width="615.2" height="8.9" fill="#9c27b0" fill-opacity="0.17" stroke="#9c27b0" stroke-opacity="0.8" stroke-width="0.9"/>
<rect x="288" y="288.6" width="595.5" height="5.1" fill="#9c27b0" fill-opacity="0.17" stroke="#9c27b0" stroke-opacity="0.8" stroke-width="0.9"/>
<polyline points="232.4,240.0 246.7,235.8 259.4,232.0 269.6,230.5 291.1,230.4 316.5,231.2 343.0,232.3 350.0,232.9 367.8,235.4 385.5,237.7 403.3,239.5 421.0,241.2 438.8,242.1 456.5,243.6 474.3,246.0 492.0,248.3 509.8,250.1 520.0,250.8 536.5,252.1 553.0,250.6 570.8,248.7 583.5,247.0 596.1,246.5 621.5,246.8 648.0,247.8 660.8,248.8 681.1,250.0 692.5,250.4 701.4,248.5 711.5,244.7 724.2,240.2 734.4,237.4 747.1,234.9 766.1,232.7 785.2,230.7 804.2,229.8 820.0,228.5 832.7,225.3 845.4,223.0 855.5,222.1 864.4,222.5 876.9,224.0" fill="none" stroke="#1a1aff" stroke-width="0.8" stroke-opacity="0.8" stroke-linejoin="round" stroke-linecap="round"/>
<polyline points="66.0,366.2 75.8,330.0 81.2,317.0 84.0,307.4 93.9,290.3 102.8,270.0 111.7,251.5 122.0,237.0 132.0,224.9 146.0,213.0 154.8,198.2 165.0,183.0 177.7,170.3 196.0,160.8 208.7,158.2 221.4,156.6 234.1,157.3 246.8,158.6 259.5,159.2 268.3,159.8 278.5,162.4 291.2,166.8 303.9,170.6 316.6,175.0 324.0,177.2 339.1,181.7 350.0,185.3 367.8,192.4 385.5,199.2 403.3,205.7 421.0,211.1 438.8,215.5 456.5,219.4 474.3,225.3 492.0,230.6 509.8,236.8 520.0,239.8 536.5,242.3 553.0,240.4 570.8,239.1 583.5,236.4 596.1,235.3 608.8,235.6 621.5,237.2 635.4,239.4 660.8,243.4 681.1,246.2 693.8,247.9 698.8,246.0 706.4,239.6 717.9,232.3 731.9,226.6 745.8,222.2 758.5,219.6 772.5,218.7 786.4,217.1 801.7,217.1 810.6,216.2 821.7,213.9 834.4,210.8 847.1,208.9 856.0,208.5 866.1,209.5 872.5,210.8 876.9,213.5" fill="none" stroke="#00e5ff" stroke-width="0.8" stroke-opacity="0.85" stroke-linejoin="round" stroke-linecap="round"/>
<polyline points="59.6,366.2 67.5,323.2 70.4,310.0 75.8,289.0 82.1,270.0 87.5,256.0 94.5,239.1 104.0,218.2 112.0,206.0 122.0,193.0 133.3,180.0 140.3,176.5 146.0,172.7 150.4,163.1 154.2,154.3 159.3,144.7 163.7,140.3 167.5,137.8 173.0,133.0 180.0,129.0 186.3,125.6 192.7,122.3 196.5,121.8 205.4,123.3 220.6,125.9 230.8,129.0 240.9,134.1 248.5,137.3 259.5,139.5 272.1,146.5 284.8,155.4 297.5,164.3 310.2,172.5 318.8,176.0 331.5,183.6 344.2,191.2 350.0,195.1 367.8,206.6 385.5,219.9 403.3,227.0 421.0,235.9 438.8,240.4 456.5,246.6 474.3,254.6 493.1,262.0 503.3,267.1 513.5,270.9 522.3,273.4 531.2,273.2 537.6,271.5 543.9,267.1 550.3,263.0 560.0,259.5 570.8,256.0 578.4,251.8 586.0,246.1 593.6,242.7 601.2,242.3 613.9,243.6 626.5,244.1 636.6,246.6 648.1,249.1 660.8,252.9 673.5,255.5 686.1,258.0 692.5,259.3 697.6,255.5 701.4,248.5 706.4,239.6 709.0,236.8 717.9,227.9 725.5,220.3 731.9,215.8 740.8,213.3 747.1,209.5 756.0,208.8 766.1,209.5 778.8,208.6 789.0,206.0 797.9,208.2 806.5,209.5 815.4,207.0 828.1,202.5 840.8,199.6 849.6,198.7 857.3,199.3 863.6,200.9 871.2,205.0 876.9,208.0" fill="none" stroke="#ff8c1a" stroke-width="0.8" stroke-opacity="0.85" stroke-linejoin="round" stroke-linecap="round"/>
<polyline points="47.6,366.2 53.0,347.0 57.8,330.0 59.3,320.7 61.5,310.0 63.1,295.3 67.5,270.0 69.8,251.8 72.3,236.6 76.8,222.6 83.1,205.5 88.4,196.9 94.1,185.5 99.8,177.2 103.6,166.5 106.6,156.8 111.1,151.7 116.1,144.7 121.2,141.6 128.8,139.7 136.4,139.7 141.5,140.0 146.6,137.1 150.4,127.6 152.5,120.0 154.5,112.8 160.3,103.9 167.9,98.8 176.8,95.2 184.4,94.4 190.0,93.5 194.0,93.5 205.4,103.0 216.8,113.2 223.1,118.9 230.8,125.9 235.3,130.0 241.7,137.6 249.3,146.2 255.6,146.5 262.0,149.7 269.6,157.3 277.2,166.8 284.8,177.6 290.9,186.2 298.5,195.0 304.9,203.3 316.3,210.9 326.4,219.1 330.9,222.0 341.1,228.3 348.7,236.6 358.8,244.2 366.4,253.1 376.6,262.6 382.9,268.3 388.2,270.9 394.6,268.3 400.9,267.7 408.5,269.6 416.1,271.2 423.8,270.9 431.4,267.7 436.4,267.1 441.5,267.7 449.1,267.7 455.5,269.0 457.6,272.8 460.6,274.5 469.0,279.1 480.5,281.7 493.1,288.0 505.8,295.0 516.0,298.8 519.8,298.8 526.1,295.0 536.3,285.5 541.4,274.1 547.7,263.3 555.5,256.0 563.1,251.8 573.3,245.5 580.9,235.3 588.5,228.4 594.9,226.1 601.2,228.7 608.8,232.2 618.9,236.4 627.8,240.9 636.6,246.6 648.1,249.8 658.2,256.7 665.8,260.6 676.0,263.7 683.6,266.5 691.2,268.8 695.0,265.6 698.8,253.6 702.6,240.9 704.9,232.0 707.8,220.3 712.8,210.7 719.2,202.5 725.5,194.9 731.9,190.0 738.2,190.8 744.6,192.0 749.6,189.0 756.0,190.8 762.3,193.9 768.7,197.7 772.5,199.8 778.8,198.7 786.4,196.8 790.0,198.1 797.6,202.5 805.2,206.3 810.3,204.4 817.9,200.0 825.5,196.2 833.1,193.0 840.8,190.5 847.1,189.8 853.5,192.7 858.5,194.9 863.6,198.1 868.7,204.4 873.8,210.8 876.9,214.6" fill="none" stroke="#ff1a1a" stroke-width="0.8" stroke-opacity="0.8" stroke-linejoin="round" stroke-linecap="round"/>
<line x1="25.58" y1="361.50" x2="25.58" y2="375.00" stroke="#26a69a" stroke-width="0.8" stroke-opacity="0.92"/>
<rect x="24.38" y="368.00" width="2.4" height="6.00" fill="#26a69a"/>
<line x1="28.82" y1="344.30" x2="28.82" y2="369.00" stroke="#26a69a" stroke-width="0.8" stroke-opacity="0.92"/>
<rect x="27.62" y="353.80" width="2.4" height="14.20" fill="#26a69a"/>
<line x1="32.06" y1="348.70" x2="32.06" y2="366.00" stroke="#ef5350" stroke-width="0.8" stroke-opacity="0.92"/>
<rect x="30.86" y="353.80" width="2.4" height="5.10" fill="#ef5350"/>
<line x1="35.30" y1="357.00" x2="35.30" y2="365.80" stroke="#ef5350" stroke-width="0.8" stroke-opacity="0.92"/>
<rect x="34.10" y="358.90" width="2.4" height="2.50" fill="#ef5350"/>
<line x1="38.53" y1="352.00" x2="38.53" y2="363.00" stroke="#26a69a" stroke-width="0.8" stroke-opacity="0.92"/>
<rect x="37.33" y="357.00" width="2.4" height="4.40" fill="#26a69a"/>
<line x1="41.77" y1="353.00" x2="41.77" y2="365.80" stroke="#ef5350" stroke-width="0.8" stroke-opacity="0.92"/>
<rect x="40.57" y="357.00" width="2.4" height="4.40" fill="#ef5350"/>
<line x1="45.01" y1="326.00" x2="45.01" y2="362.00" stroke="#26a69a" stroke-width="0.8" stroke-opacity="0.92"/>
<rect x="43.81" y="331.60" width="2.4" height="29.80" fill="#26a69a"/>
<line x1="48.25" y1="274.00" x2="48.25" y2="334.00" stroke="#26a69a" stroke-width="0.8" stroke-opacity="0.92"/>
<rect x="47.05" y="291.80" width="2.4" height="39.80" fill="#26a69a"/>
<line x1="51.49" y1="262.90" x2="51.49" y2="293.00" stroke="#26a69a" stroke-width="0.8" stroke-opacity="0.92"/>
<rect x="50.29" y="267.00" width="2.4" height="24.80" fill="#26a69a"/>
<line x1="54.73" y1="262.90" x2="54.73" y2="298.70" stroke="#ef5350" stroke-width="0.8" stroke-opacity="0.92"/>
<rect x="53.53" y="267.00" width="2.4" height="7.60" fill="#ef5350"/>
<line x1="57.97" y1="268.30" x2="57.97" y2="290.50" stroke="#ef5350" stroke-width="0.8" stroke-opacity="0.92"/>
<rect x="56.77" y="274.60" width="2.4" height="3.20" fill="#ef5350"/>
<line x1="61.20" y1="202.30" x2="61.20" y2="281.00" stroke="#26a69a" stroke-width="0.8" stroke-opacity="0.92"/>
<rect x="60.00" y="209.80" width="2.4" height="68.00" fill="#26a69a"/>
<line x1="64.44" y1="169.00" x2="64.44" y2="214.40" stroke="#26a69a" stroke-width="0.8" stroke-opacity="0.92"/>
<rect x="63.24" y="184.20" width="2.4" height="25.60" fill="#26a69a"/>
<line x1="67.68" y1="147.30" x2="67.68" y2="205.80" stroke="#26a69a" stroke-width="0.8" stroke-opacity="0.92"/>
<rect x="66.48" y="157.00" width="2.4" height="27.20" fill="#26a69a"/>
<line x1="70.92" y1="125.10" x2="70.92" y2="188.00" stroke="#26a69a" stroke-width="0.8" stroke-opacity="0.92"/>
<rect x="69.72" y="138.40" width="2.4" height="18.60" fill="#26a69a"/>
<line x1="74.16" y1="135.90" x2="74.16" y2="163.10" stroke="#ef5350" stroke-width="0.8" stroke-opacity="0.92"/>
<rect x="72.96" y="138.40" width="2.4" height="15.20" fill="#ef5350"/>
<line x1="77.40" y1="146.00" x2="77.40" y2="168.00" stroke="#ef5350" stroke-width="0.8" stroke-opacity="0.92"/>
<rect x="76.20" y="153.60" width="2.4" height="7.60" fill="#ef5350"/>
<line x1="80.64" y1="126.10" x2="80.64" y2="166.30" stroke="#26a69a" stroke-width="0.8" stroke-opacity="0.92"/>
<rect x="79.44" y="149.20" width="2.4" height="12.00" fill="#26a69a"/>
<line x1="83.87" y1="140.30" x2="83.87" y2="162.50" stroke="#26a69a" stroke-width="0.8" stroke-opacity="0.92"/>
<rect x="82.67" y="148.45" width="2.4" height="0.90" fill="#26a69a"/>
<line x1="87.11" y1="143.50" x2="87.11" y2="151.70" stroke="#ef5350" stroke-width="0.8" stroke-opacity="0.92"/>
<rect x="85.91" y="148.60" width="2.4" height="1.20" fill="#ef5350"/>
<line x1="90.35" y1="135.90" x2="90.35" y2="151.00" stroke="#26a69a" stroke-width="0.8" stroke-opacity="0.92"/>
<rect x="89.15" y="142.80" width="2.4" height="7.00" fill="#26a69a"/>
<line x1="93.59" y1="117.00" x2="93.59" y2="158.70" stroke="#26a69a" stroke-width="0.8" stroke-opacity="0.92"/>
<rect x="92.39" y="141.30" width="2.4" height="1.50" fill="#26a69a"/>
<line x1="96.83" y1="137.80" x2="96.83" y2="174.60" stroke="#ef5350" stroke-width="0.8" stroke-opacity="0.92"/>
<rect x="95.63" y="141.30" width="2.4" height="16.10" fill="#ef5350"/>
<line x1="100.07" y1="130.80" x2="100.07" y2="158.00" stroke="#26a69a" stroke-width="0.8" stroke-opacity="0.92"/>
<rect x="98.87" y="137.80" width="2.4" height="19.60" fill="#26a69a"/>
<line x1="103.30" y1="103.20" x2="103.30" y2="142.20" stroke="#26a69a" stroke-width="0.8" stroke-opacity="0.92"/>
<rect x="102.10" y="107.70" width="2.4" height="30.10" fill="#26a69a"/>
<line x1="106.54" y1="72.20" x2="106.54" y2="124.40" stroke="#26a69a" stroke-width="0.8" stroke-opacity="0.92"/>
<rect x="105.34" y="80.10" width="2.4" height="27.60" fill="#26a69a"/>
<line x1="109.78" y1="78.20" x2="109.78" y2="165.70" stroke="#ef5350" stroke-width="0.8" stroke-opacity="0.92"/>
<rect x="108.58" y="80.10" width="2.4" height="58.30" fill="#ef5350"/>
<line x1="113.02" y1="103.90" x2="113.02" y2="143.50" stroke="#26a69a" stroke-width="0.8" stroke-opacity="0.92"/>
<rect x="111.82" y="119.70" width="2.4" height="18.70" fill="#26a69a"/>
<line x1="116.26" y1="100.10" x2="116.26" y2="122.50" stroke="#26a69a" stroke-width="0.8" stroke-opacity="0.92"/>
<rect x="115.06" y="112.80" width="2.4" height="6.90" fill="#26a69a"/>
<line x1="119.50" y1="109.00" x2="119.50" y2="134.60" stroke="#ef5350" stroke-width="0.8" stroke-opacity="0.92"/>
<rect x="118.30" y="112.80" width="2.4" height="7.80" fill="#ef5350"/>
<line x1="122.74" y1="119.00" x2="122.74" y2="138.40" stroke="#ef5350" stroke-width="0.8" stroke-opacity="0.92"/>
<rect x="121.54" y="120.60" width="2.4" height="8.90" fill="#ef5350"/>
<line x1="125.97" y1="128.50" x2="125.97" y2="166.30" stroke="#ef5350" stroke-width="0.8" stroke-opacity="0.92"/>
<rect x="124.77" y="129.50" width="2.4" height="7.00" fill="#ef5350"/>
<line x1="129.21" y1="124.80" x2="129.21" y2="140.30" stroke="#26a69a" stroke-width="0.8" stroke-opacity="0.92"/>
<rect x="128.01" y="127.00" width="2.4" height="9.50" fill="#26a69a"/>
<line x1="132.45" y1="126.00" x2="132.45" y2="137.00" stroke="#ef5350" stroke-width="0.8" stroke-opacity="0.92"/>
<rect x="131.25" y="127.00" width="2.4" height="8.50" fill="#ef5350"/>
<line x1="135.69" y1="133.30" x2="135.69" y2="151.70" stroke="#ef5350" stroke-width="0.8" stroke-opacity="0.92"/>
<rect x="134.49" y="135.50" width="2.4" height="14.30" fill="#ef5350"/>
<line x1="138.93" y1="144.50" x2="138.93" y2="164.40" stroke="#26a69a" stroke-width="0.8" stroke-opacity="0.92"/>
<rect x="137.73" y="145.40" width="2.4" height="4.40" fill="#26a69a"/>
<line x1="142.17" y1="131.40" x2="142.17" y2="146.40" stroke="#26a69a" stroke-width="0.8" stroke-opacity="0.92"/>
<rect x="140.97" y="138.40" width="2.4" height="7.00" fill="#26a69a"/>
<line x1="145.41" y1="125.10" x2="145.41" y2="142.80" stroke="#26a69a" stroke-width="0.8" stroke-opacity="0.92"/>
<rect x="144.21" y="129.50" width="2.4" height="8.90" fill="#26a69a"/>
<line x1="148.64" y1="82.40" x2="148.64" y2="130.00" stroke="#26a69a" stroke-width="0.8" stroke-opacity="0.92"/>
<rect x="147.44" y="86.20" width="2.4" height="43.30" fill="#26a69a"/>
<line x1="151.88" y1="62.00" x2="151.88" y2="100.70" stroke="#26a69a" stroke-width="0.8" stroke-opacity="0.92"/>
<rect x="150.68" y="63.10" width="2.4" height="23.10" fill="#26a69a"/>
<line x1="155.12" y1="57.00" x2="155.12" y2="71.70" stroke="#26a69a" stroke-width="0.8" stroke-opacity="0.92"/>
<rect x="153.92" y="57.80" width="2.4" height="5.30" fill="#26a69a"/>
<line x1="158.36" y1="48.90" x2="158.36" y2="62.20" stroke="#26a69a" stroke-width="0.8" stroke-opacity="0.92"/>
<rect x="157.16" y="55.90" width="2.4" height="1.90" fill="#26a69a"/>
<line x1="161.60" y1="54.00" x2="161.60" y2="94.00" stroke="#ef5350" stroke-width="0.8" stroke-opacity="0.92"/>
<rect x="160.40" y="55.90" width="2.4" height="12.00" fill="#ef5350"/>
<line x1="164.84" y1="67.00" x2="164.84" y2="82.00" stroke="#ef5350" stroke-width="0.8" stroke-opacity="0.92"/>
<rect x="163.64" y="67.90" width="2.4" height="13.00" fill="#ef5350"/>
<line x1="168.07" y1="73.00" x2="168.07" y2="96.50" stroke="#ef5350" stroke-width="0.8" stroke-opacity="0.92"/>
<rect x="166.87" y="80.90" width="2.4" height="3.00" fill="#ef5350"/>
<line x1="171.31" y1="78.60" x2="171.31" y2="93.20" stroke="#26a69a" stroke-width="0.8" stroke-opacity="0.92"/>
<rect x="170.11" y="82.90" width="2.4" height="1.00" fill="#26a69a"/>
<line x1="174.55" y1="76.50" x2="174.55" y2="88.80" stroke="#ef5350" stroke-width="0.8" stroke-opacity="0.92"/>
<rect x="173.35" y="82.90" width="2.4" height="1.80" fill="#ef5350"/>
<line x1="177.79" y1="81.00" x2="177.79" y2="90.70" stroke="#ef5350" stroke-width="0.8" stroke-opacity="0.92"/>
<rect x="176.59" y="84.70" width="2.4" height="1.60" fill="#ef5350"/>
<line x1="181.03" y1="80.00" x2="181.03" y2="90.20" stroke="#ef5350" stroke-width="0.8" stroke-opacity="0.92"/>
<rect x="179.83" y="86.30" width="2.4" height="2.20" fill="#ef5350"/>
<line x1="184.27" y1="84.20" x2="184.27" y2="105.00" stroke="#ef5350" stroke-width="0.8" stroke-opacity="0.92"/>
<rect x="183.07" y="88.50" width="2.4" height="7.70" fill="#ef5350"/>
<line x1="187.51" y1="87.50" x2="187.51" y2="98.60" stroke="#26a69a" stroke-width="0.8" stroke-opacity="0.92"/>
<rect x="186.31" y="94.00" width="2.4" height="2.20" fill="#26a69a"/>
<line x1="190.74" y1="76.80" x2="190.74" y2="96.70" stroke="#26a69a" stroke-width="0.8" stroke-opacity="0.92"/>
<rect x="189.54" y="92.20" width="2.4" height="1.80" fill="#26a69a"/>
<line x1="193.98" y1="89.60" x2="193.98" y2="110.60" stroke="#ef5350" stroke-width="0.8" stroke-opacity="0.92"/>
<rect x="192.78" y="92.20" width="2.4" height="10.80" fill="#ef5350"/>
<line x1="197.22" y1="102.00" x2="197.22" y2="130.30" stroke="#ef5350" stroke-width="0.8" stroke-opacity="0.92"/>
<rect x="196.02" y="103.00" width="2.4" height="14.60" fill="#ef5350"/>
<line x1="200.46" y1="108.10" x2="200.46" y2="148.40" stroke="#ef5350" stroke-width="0.8" stroke-opacity="0.92"/>
<rect x="199.26" y="117.60" width="2.4" height="15.80" fill="#ef5350"/>
<line x1="203.70" y1="126.50" x2="203.70" y2="147.80" stroke="#ef5350" stroke-width="0.8" stroke-opacity="0.92"/>
<rect x="202.50" y="133.40" width="2.4" height="2.40" fill="#ef5350"/>
<line x1="206.94" y1="135.00" x2="206.94" y2="149.00" stroke="#ef5350" stroke-width="0.8" stroke-opacity="0.92"/>
<rect x="205.74" y="135.80" width="2.4" height="8.20" fill="#ef5350"/>
<line x1="210.18" y1="125.20" x2="210.18" y2="147.10" stroke="#26a69a" stroke-width="0.8" stroke-opacity="0.92"/>
<rect x="208.98" y="127.80" width="2.4" height="16.20" fill="#26a69a"/>
<line x1="213.41" y1="118.30" x2="213.41" y2="140.60" stroke="#ef5350" stroke-width="0.8" stroke-opacity="0.92"/>
<rect x="212.21" y="127.80" width="2.4" height="5.50" fill="#ef5350"/>
<line x1="216.65" y1="132.50" x2="216.65" y2="154.10" stroke="#ef5350" stroke-width="0.8" stroke-opacity="0.92"/>
<rect x="215.45" y="133.30" width="2.4" height="17.00" fill="#ef5350"/>
<line x1="219.89" y1="130.00" x2="219.89" y2="159.80" stroke="#26a69a" stroke-width="0.8" stroke-opacity="0.92"/>
<rect x="218.69" y="131.00" width="2.4" height="19.30" fill="#26a69a"/>
<line x1="223.13" y1="115.10" x2="223.13" y2="175.70" stroke="#ef5350" stroke-width="0.8" stroke-opacity="0.92"/>
<rect x="221.93" y="131.00" width="2.4" height="23.70" fill="#ef5350"/>
<line x1="226.37" y1="151.60" x2="226.37" y2="171.90" stroke="#ef5350" stroke-width="0.8" stroke-opacity="0.92"/>
<rect x="225.17" y="154.70" width="2.4" height="8.30" fill="#ef5350"/>
<line x1="229.61" y1="149.70" x2="229.61" y2="165.50" stroke="#26a69a" stroke-width="0.8" stroke-opacity="0.92"/>
<rect x="228.41" y="152.80" width="2.4" height="10.20" fill="#26a69a"/>
<line x1="232.84" y1="142.10" x2="232.84" y2="163.50" stroke="#ef5350" stroke-width="0.8" stroke-opacity="0.92"/>
<rect x="231.64" y="152.80" width="2.4" height="9.60" fill="#ef5350"/>
<line x1="236.08" y1="157.30" x2="236.08" y2="176.00" stroke="#ef5350" stroke-width="0.8" stroke-opacity="0.92"/>
<rect x="234.88" y="162.40" width="2.4" height="12.00" fill="#ef5350"/>
<line x1="239.32" y1="167.40" x2="239.32" y2="196.90" stroke="#ef5350" stroke-width="0.8" stroke-opacity="0.92"/>
<rect x="238.12" y="174.40" width="2.4" height="8.70" fill="#ef5350"/>
<line x1="242.56" y1="165.50" x2="242.56" y2="190.00" stroke="#ef5350" stroke-width="0.8" stroke-opacity="0.92"/>
<rect x="241.36" y="183.10" width="2.4" height="3.90" fill="#ef5350"/>
<line x1="245.80" y1="182.30" x2="245.80" y2="193.50" stroke="#ef5350" stroke-width="0.8" stroke-opacity="0.92"/>
<rect x="244.60" y="187.00" width="2.4" height="5.20" fill="#ef5350"/>
<line x1="249.04" y1="176.30" x2="249.04" y2="193.00" stroke="#26a69a" stroke-width="0.8" stroke-opacity="0.92"/>
<rect x="247.84" y="180.30" width="2.4" height="11.90" fill="#26a69a"/>
<line x1="252.28" y1="148.00" x2="252.28" y2="181.80" stroke="#26a69a" stroke-width="0.8" stroke-opacity="0.92"/>
<rect x="251.08" y="149.00" width="2.4" height="31.30" fill="#26a69a"/>
<line x1="255.51" y1="143.30" x2="255.51" y2="156.60" stroke="#26a69a" stroke-width="0.8" stroke-opacity="0.92"/>
<rect x="254.31" y="148.25" width="2.4" height="0.90" fill="#26a69a"/>
<line x1="258.75" y1="144.00" x2="258.75" y2="165.00" stroke="#ef5350" stroke-width="0.8" stroke-opacity="0.92"/>
<rect x="257.55" y="148.40" width="2.4" height="15.20" fill="#ef5350"/>
<line x1="261.99" y1="162.50" x2="261.99" y2="177.00" stroke="#ef5350" stroke-width="0.8" stroke-opacity="0.92"/>
<rect x="260.79" y="163.60" width="2.4" height="12.10" fill="#ef5350"/>
<line x1="265.23" y1="168.70" x2="265.23" y2="181.00" stroke="#ef5350" stroke-width="0.8" stroke-opacity="0.92"/>
<rect x="264.03" y="175.70" width="2.4" height="3.70" fill="#ef5350"/>
<line x1="268.47" y1="177.50" x2="268.47" y2="198.80" stroke="#ef5350" stroke-width="0.8" stroke-opacity="0.92"/>
<rect x="267.27" y="179.40" width="2.4" height="11.80" fill="#ef5350"/>
<line x1="271.71" y1="177.00" x2="271.71" y2="200.00" stroke="#ef5350" stroke-width="0.8" stroke-opacity="0.92"/>
<rect x="270.51" y="191.20" width="2.4" height="7.30" fill="#ef5350"/>
<line x1="274.95" y1="195.70" x2="274.95" y2="261.30" stroke="#ef5350" stroke-width="0.8" stroke-opacity="0.92"/>
<rect x="273.75" y="198.50" width="2.4" height="21.90" fill="#ef5350"/>
<line x1="278.18" y1="217.20" x2="278.18" y2="240.00" stroke="#ef5350" stroke-width="0.8" stroke-opacity="0.92"/>
<rect x="276.98" y="220.40" width="2.4" height="10.20" fill="#ef5350"/>
<line x1="281.42" y1="227.00" x2="281.42" y2="250.60" stroke="#ef5350" stroke-width="0.8" stroke-opacity="0.92"/>
<rect x="280.22" y="230.60" width="2.4" height="12.30" fill="#ef5350"/>
<line x1="284.66" y1="205.20" x2="284.66" y2="244.00" stroke="#26a69a" stroke-width="0.8" stroke-opacity="0.92"/>
<rect x="283.46" y="225.90" width="2.4" height="17.00" fill="#26a69a"/>
<line x1="287.90" y1="208.40" x2="287.90" y2="243.00" stroke="#ef5350" stroke-width="0.8" stroke-opacity="0.92"/>
<rect x="286.70" y="225.90" width="2.4" height="15.10" fill="#ef5350"/>
<line x1="291.14" y1="229.60" x2="291.14" y2="256.90" stroke="#ef5350" stroke-width="0.8" stroke-opacity="0.92"/>
<rect x="289.94" y="241.00" width="2.4" height="1.00" fill="#ef5350"/>
<line x1="294.38" y1="233.40" x2="294.38" y2="248.00" stroke="#26a69a" stroke-width="0.8" stroke-opacity="0.92"/>
<rect x="293.18" y="241.30" width="2.4" height="0.90" fill="#26a69a"/>
<line x1="297.61" y1="237.20" x2="297.61" y2="253.10" stroke="#ef5350" stroke-width="0.8" stroke-opacity="0.92"/>
<rect x="296.41" y="241.50" width="2.4" height="7.10" fill="#ef5350"/>
<line x1="300.85" y1="240.40" x2="300.85" y2="250.50" stroke="#26a69a" stroke-width="0.8" stroke-opacity="0.92"/>
<rect x="299.65" y="247.30" width="2.4" height="1.30" fill="#26a69a"/>
<line x1="304.09" y1="246.00" x2="304.09" y2="261.30" stroke="#ef5350" stroke-width="0.8" stroke-opacity="0.92"/>
<rect x="302.89" y="247.30" width="2.4" height="3.10" fill="#ef5350"/>
<line x1="307.33" y1="229.40" x2="307.33" y2="251.00" stroke="#26a69a" stroke-width="0.8" stroke-opacity="0.92"/>
<rect x="306.13" y="236.60" width="2.4" height="13.80" fill="#26a69a"/>
<line x1="310.57" y1="227.70" x2="310.57" y2="249.30" stroke="#26a69a" stroke-width="0.8" stroke-opacity="0.92"/>
<rect x="309.37" y="235.30" width="2.4" height="1.30" fill="#26a69a"/>
<line x1="313.81" y1="231.20" x2="313.81" y2="241.00" stroke="#26a69a" stroke-width="0.8" stroke-opacity="0.92"/>
<rect x="312.61" y="233.40" width="2.4" height="1.90" fill="#26a69a"/>
<line x1="317.05" y1="220.70" x2="317.05" y2="238.50" stroke="#26a69a" stroke-width="0.8" stroke-opacity="0.92"/>
<rect x="315.85" y="225.60" width="2.4" height="7.80" fill="#26a69a"/>
<line x1="320.28" y1="223.00" x2="320.28" y2="253.10" stroke="#ef5350" stroke-width="0.8" stroke-opacity="0.92"/>
<rect x="319.08" y="225.60" width="2.4" height="21.10" fill="#ef5350"/>
<line x1="323.52" y1="242.90" x2="323.52" y2="256.00" stroke="#ef5350" stroke-width="0.8" stroke-opacity="0.92"/>
<rect x="322.32" y="246.70" width="2.4" height="8.00" fill="#ef5350"/>
<line x1="326.76" y1="237.00" x2="326.76" y2="256.00" stroke="#26a69a" stroke-width="0.8" stroke-opacity="0.92"/>
<rect x="325.56" y="237.90" width="2.4" height="16.80" fill="#26a69a"/>
<line x1="330.00" y1="234.10" x2="330.00" y2="248.60" stroke="#26a69a" stroke-width="0.8" stroke-opacity="0.92"/>
<rect x="328.80" y="237.00" width="2.4" height="0.90" fill="#26a69a"/>
<line x1="333.24" y1="234.70" x2="333.24" y2="251.80" stroke="#ef5350" stroke-width="0.8" stroke-opacity="0.92"/>
<rect x="332.04" y="237.00" width="2.4" height="13.60" fill="#ef5350"/>
<line x1="336.48" y1="242.30" x2="336.48" y2="254.40" stroke="#ef5350" stroke-width="0.8" stroke-opacity="0.92"/>
<rect x="335.28" y="250.45" width="2.4" height="0.90" fill="#ef5350"/>
<line x1="339.72" y1="246.70" x2="339.72" y2="258.50" stroke="#ef5350" stroke-width="0.8" stroke-opacity="0.92"/>
<rect x="338.52" y="251.20" width="2.4" height="6.10" fill="#ef5350"/>
<line x1="342.95" y1="253.10" x2="342.95" y2="258.50" stroke="#26a69a" stroke-width="0.8" stroke-opacity="0.92"/>
<rect x="341.75" y="256.00" width="2.4" height="1.30" fill="#26a69a"/>
<line x1="346.19" y1="255.00" x2="346.19" y2="275.90" stroke="#ef5350" stroke-width="0.8" stroke-opacity="0.92"/>
<rect x="344.99" y="256.00" width="2.4" height="14.20" fill="#ef5350"/>
<line x1="349.43" y1="269.00" x2="349.43" y2="281.60" stroke="#ef5350" stroke-width="0.8" stroke-opacity="0.92"/>
<rect x="348.23" y="270.20" width="2.4" height="2.10" fill="#ef5350"/>
<line x1="352.67" y1="252.20" x2="352.67" y2="274.70" stroke="#26a69a" stroke-width="0.8" stroke-opacity="0.92"/>
<rect x="351.47" y="260.90" width="2.4" height="11.40" fill="#26a69a"/>
<line x1="355.91" y1="252.70" x2="355.91" y2="266.60" stroke="#ef5350" stroke-width="0.8" stroke-opacity="0.92"/>
<rect x="354.71" y="260.75" width="2.4" height="0.90" fill="#ef5350"/>
<line x1="359.15" y1="258.40" x2="359.15" y2="288.00" stroke="#ef5350" stroke-width="0.8" stroke-opacity="0.92"/>
<rect x="357.95" y="261.50" width="2.4" height="20.80" fill="#ef5350"/>
<line x1="362.38" y1="277.50" x2="362.38" y2="290.00" stroke="#ef5350" stroke-width="0.8" stroke-opacity="0.92"/>
<rect x="361.18" y="282.30" width="2.4" height="5.70" fill="#ef5350"/>
<line x1="365.62" y1="284.40" x2="365.62" y2="293.70" stroke="#26a69a" stroke-width="0.8" stroke-opacity="0.92"/>
<rect x="364.42" y="287.25" width="2.4" height="0.90" fill="#26a69a"/>
<line x1="368.86" y1="283.20" x2="368.86" y2="291.80" stroke="#26a69a" stroke-width="0.8" stroke-opacity="0.92"/>
<rect x="367.66" y="284.80" width="2.4" height="2.60" fill="#26a69a"/>
<line x1="372.10" y1="282.30" x2="372.10" y2="291.00" stroke="#ef5350" stroke-width="0.8" stroke-opacity="0.92"/>
<rect x="370.90" y="284.80" width="2.4" height="4.70" fill="#ef5350"/>
<line x1="375.34" y1="286.00" x2="375.34" y2="308.30" stroke="#ef5350" stroke-width="0.8" stroke-opacity="0.92"/>
<rect x="374.14" y="289.50" width="2.4" height="15.20" fill="#ef5350"/>
<line x1="378.58" y1="303.20" x2="378.58" y2="312.70" stroke="#ef5350" stroke-width="0.8" stroke-opacity="0.92"/>
<rect x="377.38" y="304.70" width="2.4" height="3.00" fill="#ef5350"/>
<line x1="381.82" y1="305.00" x2="381.82" y2="314.60" stroke="#ef5350" stroke-width="0.8" stroke-opacity="0.92"/>
<rect x="380.62" y="307.70" width="2.4" height="3.10" fill="#ef5350"/>
<line x1="385.05" y1="292.40" x2="385.05" y2="314.60" stroke="#26a69a" stroke-width="0.8" stroke-opacity="0.92"/>
<rect x="383.85" y="293.10" width="2.4" height="17.70" fill="#26a69a"/>
<line x1="388.29" y1="270.20" x2="388.29" y2="294.00" stroke="#26a69a" stroke-width="0.8" stroke-opacity="0.92"/>
<rect x="387.09" y="275.90" width="2.4" height="17.20" fill="#26a69a"/>
<line x1="391.53" y1="265.50" x2="391.53" y2="284.20" stroke="#26a69a" stroke-width="0.8" stroke-opacity="0.92"/>
<rect x="390.33" y="269.00" width="2.4" height="6.90" fill="#26a69a"/>
<line x1="394.77" y1="262.00" x2="394.77" y2="276.60" stroke="#26a69a" stroke-width="0.8" stroke-opacity="0.92"/>
<rect x="393.57" y="263.10" width="2.4" height="5.90" fill="#26a69a"/>
<line x1="398.01" y1="258.80" x2="398.01" y2="271.50" stroke="#ef5350" stroke-width="0.8" stroke-opacity="0.92"/>
<rect x="396.81" y="263.10" width="2.4" height="1.40" fill="#ef5350"/>
<line x1="401.25" y1="260.70" x2="401.25" y2="274.70" stroke="#ef5350" stroke-width="0.8" stroke-opacity="0.92"/>
<rect x="400.05" y="264.50" width="2.4" height="7.00" fill="#ef5350"/>
<line x1="404.49" y1="256.90" x2="404.49" y2="277.20" stroke="#26a69a" stroke-width="0.8" stroke-opacity="0.92"/>
<rect x="403.29" y="262.60" width="2.4" height="8.90" fill="#26a69a"/>
<line x1="407.72" y1="259.40" x2="407.72" y2="274.70" stroke="#ef5350" stroke-width="0.8" stroke-opacity="0.92"/>
<rect x="406.52" y="262.60" width="2.4" height="7.60" fill="#ef5350"/>
<line x1="410.96" y1="269.50" x2="410.96" y2="284.80" stroke="#ef5350" stroke-width="0.8" stroke-opacity="0.92"/>
<rect x="409.76" y="270.20" width="2.4" height="10.20" fill="#ef5350"/>
<line x1="414.20" y1="279.00" x2="414.20" y2="292.80" stroke="#ef5350" stroke-width="0.8" stroke-opacity="0.92"/>
<rect x="413.00" y="280.40" width="2.4" height="1.90" fill="#ef5350"/>
<line x1="417.44" y1="270.90" x2="417.44" y2="286.70" stroke="#26a69a" stroke-width="0.8" stroke-opacity="0.92"/>
<rect x="416.24" y="277.80" width="2.4" height="4.50" fill="#26a69a"/>
<line x1="420.68" y1="265.80" x2="420.68" y2="280.40" stroke="#26a69a" stroke-width="0.8" stroke-opacity="0.92"/>
<rect x="419.48" y="274.70" width="2.4" height="3.10" fill="#26a69a"/>
<line x1="423.92" y1="260.10" x2="423.92" y2="279.70" stroke="#26a69a" stroke-width="0.8" stroke-opacity="0.92"/>
<rect x="422.72" y="267.10" width="2.4" height="7.60" fill="#26a69a"/>
<line x1="427.15" y1="260.70" x2="427.15" y2="268.30" stroke="#26a69a" stroke-width="0.8" stroke-opacity="0.92"/>
<rect x="425.95" y="265.20" width="2.4" height="1.90" fill="#26a69a"/>
<line x1="430.39" y1="247.10" x2="430.39" y2="266.00" stroke="#26a69a" stroke-width="0.8" stroke-opacity="0.92"/>
<rect x="429.19" y="249.20" width="2.4" height="16.00" fill="#26a69a"/>
<line x1="433.63" y1="248.50" x2="433.63" y2="267.70" stroke="#ef5350" stroke-width="0.8" stroke-opacity="0.92"/>
<rect x="432.43" y="249.20" width="2.4" height="16.00" fill="#ef5350"/>
<line x1="436.87" y1="256.90" x2="436.87" y2="267.70" stroke="#26a69a" stroke-width="0.8" stroke-opacity="0.92"/>
<rect x="435.67" y="263.20" width="2.4" height="2.00" fill="#26a69a"/>
<line x1="440.11" y1="262.00" x2="440.11" y2="269.00" stroke="#ef5350" stroke-width="0.8" stroke-opacity="0.92"/>
<rect x="438.91" y="263.20" width="2.4" height="5.10" fill="#ef5350"/>
<line x1="443.35" y1="267.50" x2="443.35" y2="276.60" stroke="#ef5350" stroke-width="0.8" stroke-opacity="0.92"/>
<rect x="442.15" y="268.30" width="2.4" height="1.70" fill="#ef5350"/>
<line x1="446.59" y1="269.00" x2="446.59" y2="274.70" stroke="#ef5350" stroke-width="0.8" stroke-opacity="0.92"/>
<rect x="445.39" y="270.00" width="2.4" height="2.80" fill="#ef5350"/>
<line x1="449.82" y1="266.50" x2="449.82" y2="274.70" stroke="#26a69a" stroke-width="0.8" stroke-opacity="0.92"/>
<rect x="448.62" y="267.10" width="2.4" height="5.70" fill="#26a69a"/>
<line x1="453.06" y1="266.20" x2="453.06" y2="269.50" stroke="#ef5350" stroke-width="0.8" stroke-opacity="0.92"/>
<rect x="451.86" y="267.10" width="2.4" height="1.20" fill="#ef5350"/>
<line x1="456.30" y1="267.50" x2="456.30" y2="324.60" stroke="#ef5350" stroke-width="0.8" stroke-opacity="0.92"/>
<rect x="455.10" y="268.30" width="2.4" height="34.30" fill="#ef5350"/>
<line x1="459.54" y1="295.60" x2="459.54" y2="309.60" stroke="#ef5350" stroke-width="0.8" stroke-opacity="0.92"/>
<rect x="458.34" y="302.60" width="2.4" height="4.00" fill="#ef5350"/>
<line x1="462.78" y1="290.60" x2="462.78" y2="309.60" stroke="#26a69a" stroke-width="0.8" stroke-opacity="0.92"/>
<rect x="461.58" y="295.20" width="2.4" height="11.40" fill="#26a69a"/>
<line x1="466.02" y1="292.50" x2="466.02" y2="306.70" stroke="#ef5350" stroke-width="0.8" stroke-opacity="0.92"/>
<rect x="464.82" y="295.05" width="2.4" height="0.90" fill="#ef5350"/>
<line x1="469.25" y1="292.50" x2="469.25" y2="300.00" stroke="#ef5350" stroke-width="0.8" stroke-opacity="0.92"/>
<rect x="468.06" y="295.80" width="2.4" height="2.00" fill="#ef5350"/>
<line x1="472.49" y1="267.70" x2="472.49" y2="299.80" stroke="#26a69a" stroke-width="0.8" stroke-opacity="0.92"/>
<rect x="471.29" y="287.40" width="2.4" height="10.40" fill="#26a69a"/>
<line x1="475.73" y1="281.00" x2="475.73" y2="291.80" stroke="#26a69a" stroke-width="0.8" stroke-opacity="0.92"/>
<rect x="474.53" y="286.20" width="2.4" height="1.20" fill="#26a69a"/>
<line x1="478.97" y1="285.50" x2="478.97" y2="291.80" stroke="#ef5350" stroke-width="0.8" stroke-opacity="0.92"/>
<rect x="477.77" y="286.05" width="2.4" height="0.90" fill="#ef5350"/>
<line x1="482.21" y1="286.00" x2="482.21" y2="296.00" stroke="#ef5350" stroke-width="0.8" stroke-opacity="0.92"/>
<rect x="481.01" y="286.80" width="2.4" height="8.20" fill="#ef5350"/>
<line x1="485.45" y1="291.20" x2="485.45" y2="298.80" stroke="#ef5350" stroke-width="0.8" stroke-opacity="0.92"/>
<rect x="484.25" y="295.00" width="2.4" height="1.00" fill="#ef5350"/>
<line x1="488.69" y1="295.00" x2="488.69" y2="315.90" stroke="#ef5350" stroke-width="0.8" stroke-opacity="0.92"/>
<rect x="487.49" y="296.00" width="2.4" height="7.20" fill="#ef5350"/>
<line x1="491.92" y1="302.50" x2="491.92" y2="310.90" stroke="#ef5350" stroke-width="0.8" stroke-opacity="0.92"/>
<rect x="490.72" y="303.20" width="2.4" height="2.60" fill="#ef5350"/>
<line x1="495.16" y1="299.40" x2="495.16" y2="311.50" stroke="#ef5350" stroke-width="0.8" stroke-opacity="0.92"/>
<rect x="493.96" y="305.80" width="2.4" height="2.90" fill="#ef5350"/>
<line x1="498.40" y1="308.00" x2="498.40" y2="314.00" stroke="#ef5350" stroke-width="0.8" stroke-opacity="0.92"/>
<rect x="497.20" y="308.70" width="2.4" height="2.80" fill="#ef5350"/>
<line x1="501.64" y1="309.00" x2="501.64" y2="316.60" stroke="#ef5350" stroke-width="0.8" stroke-opacity="0.92"/>
<rect x="500.44" y="311.50" width="2.4" height="1.00" fill="#ef5350"/>
<line x1="504.88" y1="307.70" x2="504.88" y2="315.00" stroke="#ef5350" stroke-width="0.8" stroke-opacity="0.92"/>
<rect x="503.68" y="312.50" width="2.4" height="1.80" fill="#ef5350"/>
<line x1="508.12" y1="304.50" x2="508.12" y2="315.00" stroke="#26a69a" stroke-width="0.8" stroke-opacity="0.92"/>
<rect x="506.92" y="305.10" width="2.4" height="9.20" fill="#26a69a"/>
<line x1="511.36" y1="303.20" x2="511.36" y2="309.50" stroke="#ef5350" stroke-width="0.8" stroke-opacity="0.92"/>
<rect x="510.16" y="305.10" width="2.4" height="3.60" fill="#ef5350"/>
<line x1="514.59" y1="308.00" x2="514.59" y2="314.00" stroke="#ef5350" stroke-width="0.8" stroke-opacity="0.92"/>
<rect x="513.39" y="308.70" width="2.4" height="3.40" fill="#ef5350"/>
<line x1="517.83" y1="305.00" x2="517.83" y2="315.30" stroke="#26a69a" stroke-width="0.8" stroke-opacity="0.92"/>
<rect x="516.63" y="305.80" width="2.4" height="6.30" fill="#26a69a"/>
<line x1="521.07" y1="293.00" x2="521.07" y2="306.50" stroke="#26a69a" stroke-width="0.8" stroke-opacity="0.92"/>
<rect x="519.87" y="294.00" width="2.4" height="11.80" fill="#26a69a"/>
<line x1="524.31" y1="276.60" x2="524.31" y2="297.50" stroke="#26a69a" stroke-width="0.8" stroke-opacity="0.92"/>
<rect x="523.11" y="278.50" width="2.4" height="15.50" fill="#26a69a"/>
<line x1="527.55" y1="263.30" x2="527.55" y2="281.00" stroke="#26a69a" stroke-width="0.8" stroke-opacity="0.92"/>
<rect x="526.35" y="266.80" width="2.4" height="11.70" fill="#26a69a"/>
<line x1="530.79" y1="258.00" x2="530.79" y2="278.50" stroke="#26a69a" stroke-width="0.8" stroke-opacity="0.92"/>
<rect x="529.59" y="265.80" width="2.4" height="1.00" fill="#26a69a"/>
<line x1="534.03" y1="257.00" x2="534.03" y2="274.00" stroke="#26a69a" stroke-width="0.8" stroke-opacity="0.92"/>
<rect x="532.83" y="264.60" width="2.4" height="1.20" fill="#26a69a"/>
<line x1="537.26" y1="256.00" x2="537.26" y2="272.00" stroke="#26a69a" stroke-width="0.8" stroke-opacity="0.92"/>
<rect x="536.06" y="263.30" width="2.4" height="1.30" fill="#26a69a"/>
<line x1="540.50" y1="211.90" x2="540.50" y2="264.00" stroke="#26a69a" stroke-width="0.8" stroke-opacity="0.92"/>
<rect x="539.30" y="221.10" width="2.4" height="42.20" fill="#26a69a"/>
<line x1="543.74" y1="207.20" x2="543.74" y2="236.60" stroke="#ef5350" stroke-width="0.8" stroke-opacity="0.92"/>
<rect x="542.54" y="221.10" width="2.4" height="2.20" fill="#ef5350"/>
<line x1="546.98" y1="211.20" x2="546.98" y2="229.60" stroke="#26a69a" stroke-width="0.8" stroke-opacity="0.92"/>
<rect x="545.78" y="221.40" width="2.4" height="1.90" fill="#26a69a"/>
<line x1="550.22" y1="207.20" x2="550.22" y2="226.50" stroke="#26a69a" stroke-width="0.8" stroke-opacity="0.92"/>
<rect x="549.02" y="220.65" width="2.4" height="0.90" fill="#26a69a"/>
<line x1="553.46" y1="213.80" x2="553.46" y2="241.50" stroke="#ef5350" stroke-width="0.8" stroke-opacity="0.92"/>
<rect x="552.26" y="220.80" width="2.4" height="19.60" fill="#ef5350"/>
<line x1="556.69" y1="217.00" x2="556.69" y2="246.10" stroke="#26a69a" stroke-width="0.8" stroke-opacity="0.92"/>
<rect x="555.49" y="234.10" width="2.4" height="6.30" fill="#26a69a"/>
<line x1="559.93" y1="229.20" x2="559.93" y2="244.90" stroke="#ef5350" stroke-width="0.8" stroke-opacity="0.92"/>
<rect x="558.73" y="234.10" width="2.4" height="4.40" fill="#ef5350"/>
<line x1="563.17" y1="237.50" x2="563.17" y2="249.30" stroke="#ef5350" stroke-width="0.8" stroke-opacity="0.92"/>
<rect x="561.97" y="238.50" width="2.4" height="2.20" fill="#ef5350"/>
<line x1="566.41" y1="231.50" x2="566.41" y2="242.50" stroke="#26a69a" stroke-width="0.8" stroke-opacity="0.92"/>
<rect x="565.21" y="240.05" width="2.4" height="0.90" fill="#26a69a"/>
<line x1="569.65" y1="226.20" x2="569.65" y2="244.90" stroke="#26a69a" stroke-width="0.8" stroke-opacity="0.92"/>
<rect x="568.45" y="230.90" width="2.4" height="9.40" fill="#26a69a"/>
<line x1="572.89" y1="213.10" x2="572.89" y2="232.00" stroke="#26a69a" stroke-width="0.8" stroke-opacity="0.92"/>
<rect x="571.69" y="216.90" width="2.4" height="14.00" fill="#26a69a"/>
<line x1="576.13" y1="213.10" x2="576.13" y2="225.80" stroke="#ef5350" stroke-width="0.8" stroke-opacity="0.92"/>
<rect x="574.93" y="216.90" width="2.4" height="4.50" fill="#ef5350"/>
<line x1="579.36" y1="190.50" x2="579.36" y2="224.60" stroke="#26a69a" stroke-width="0.8" stroke-opacity="0.92"/>
<rect x="578.16" y="199.80" width="2.4" height="21.60" fill="#26a69a"/>
<line x1="582.60" y1="189.00" x2="582.60" y2="224.60" stroke="#ef5350" stroke-width="0.8" stroke-opacity="0.92"/>
<rect x="581.40" y="199.80" width="2.4" height="1.50" fill="#ef5350"/>
<line x1="585.84" y1="192.00" x2="585.84" y2="214.40" stroke="#ef5350" stroke-width="0.8" stroke-opacity="0.92"/>
<rect x="584.64" y="201.30" width="2.4" height="5.50" fill="#ef5350"/>
<line x1="589.08" y1="204.20" x2="589.08" y2="225.20" stroke="#ef5350" stroke-width="0.8" stroke-opacity="0.92"/>
<rect x="587.88" y="206.80" width="2.4" height="5.10" fill="#ef5350"/>
<line x1="592.32" y1="206.20" x2="592.32" y2="214.40" stroke="#26a69a" stroke-width="0.8" stroke-opacity="0.92"/>
<rect x="591.12" y="211.10" width="2.4" height="0.90" fill="#26a69a"/>
<line x1="595.56" y1="210.50" x2="595.56" y2="226.50" stroke="#ef5350" stroke-width="0.8" stroke-opacity="0.92"/>
<rect x="594.36" y="211.20" width="2.4" height="10.80" fill="#ef5350"/>
<line x1="598.80" y1="215.70" x2="598.80" y2="261.00" stroke="#ef5350" stroke-width="0.8" stroke-opacity="0.92"/>
<rect x="597.60" y="222.00" width="2.4" height="24.10" fill="#ef5350"/>
<line x1="602.03" y1="236.00" x2="602.03" y2="257.00" stroke="#26a69a" stroke-width="0.8" stroke-opacity="0.92"/>
<rect x="600.83" y="239.10" width="2.4" height="7.00" fill="#26a69a"/>
<line x1="605.27" y1="234.70" x2="605.27" y2="250.60" stroke="#ef5350" stroke-width="0.8" stroke-opacity="0.92"/>
<rect x="604.07" y="239.10" width="2.4" height="8.30" fill="#ef5350"/>
<line x1="608.51" y1="244.90" x2="608.51" y2="251.90" stroke="#ef5350" stroke-width="0.8" stroke-opacity="0.92"/>
<rect x="607.31" y="247.25" width="2.4" height="0.90" fill="#ef5350"/>
<line x1="611.75" y1="244.20" x2="611.75" y2="254.00" stroke="#ef5350" stroke-width="0.8" stroke-opacity="0.92"/>
<rect x="610.55" y="248.00" width="2.4" height="4.90" fill="#ef5350"/>
<line x1="614.99" y1="240.90" x2="614.99" y2="255.50" stroke="#26a69a" stroke-width="0.8" stroke-opacity="0.92"/>
<rect x="613.79" y="246.60" width="2.4" height="6.30" fill="#26a69a"/>
<line x1="618.23" y1="236.50" x2="618.23" y2="250.60" stroke="#ef5350" stroke-width="0.8" stroke-opacity="0.92"/>
<rect x="617.03" y="246.60" width="2.4" height="1.30" fill="#ef5350"/>
<line x1="621.46" y1="244.20" x2="621.46" y2="252.00" stroke="#ef5350" stroke-width="0.8" stroke-opacity="0.92"/>
<rect x="620.26" y="247.90" width="2.4" height="3.00" fill="#ef5350"/>
<line x1="624.70" y1="241.00" x2="624.70" y2="255.50" stroke="#ef5350" stroke-width="0.8" stroke-opacity="0.92"/>
<rect x="623.50" y="250.65" width="2.4" height="0.90" fill="#ef5350"/>
<line x1="627.94" y1="250.50" x2="627.94" y2="261.80" stroke="#ef5350" stroke-width="0.8" stroke-opacity="0.92"/>
<rect x="626.74" y="251.30" width="2.4" height="6.70" fill="#ef5350"/>
<line x1="631.18" y1="257.00" x2="631.18" y2="273.90" stroke="#ef5350" stroke-width="0.8" stroke-opacity="0.92"/>
<rect x="629.98" y="258.00" width="2.4" height="9.50" fill="#ef5350"/>
<line x1="634.42" y1="261.20" x2="634.42" y2="272.60" stroke="#26a69a" stroke-width="0.8" stroke-opacity="0.92"/>
<rect x="633.22" y="264.40" width="2.4" height="3.10" fill="#26a69a"/>
<line x1="637.66" y1="256.10" x2="637.66" y2="286.60" stroke="#ef5350" stroke-width="0.8" stroke-opacity="0.92"/>
<rect x="636.46" y="264.40" width="2.4" height="12.60" fill="#ef5350"/>
<line x1="640.90" y1="251.00" x2="640.90" y2="281.50" stroke="#26a69a" stroke-width="0.8" stroke-opacity="0.92"/>
<rect x="639.70" y="254.60" width="2.4" height="22.40" fill="#26a69a"/>
<line x1="644.13" y1="247.90" x2="644.13" y2="258.00" stroke="#26a69a" stroke-width="0.8" stroke-opacity="0.92"/>
<rect x="642.93" y="251.00" width="2.4" height="3.60" fill="#26a69a"/>
<line x1="647.37" y1="249.10" x2="647.37" y2="266.90" stroke="#ef5350" stroke-width="0.8" stroke-opacity="0.92"/>
<rect x="646.17" y="251.00" width="2.4" height="9.60" fill="#ef5350"/>
<line x1="650.61" y1="255.50" x2="650.61" y2="280.90" stroke="#ef5350" stroke-width="0.8" stroke-opacity="0.92"/>
<rect x="649.41" y="260.60" width="2.4" height="17.10" fill="#ef5350"/>
<line x1="653.85" y1="274.50" x2="653.85" y2="301.00" stroke="#ef5350" stroke-width="0.8" stroke-opacity="0.92"/>
<rect x="652.65" y="277.70" width="2.4" height="5.10" fill="#ef5350"/>
<line x1="657.09" y1="277.00" x2="657.09" y2="284.70" stroke="#26a69a" stroke-width="0.8" stroke-opacity="0.92"/>
<rect x="655.89" y="281.20" width="2.4" height="1.60" fill="#26a69a"/>
<line x1="660.33" y1="261.80" x2="660.33" y2="282.80" stroke="#26a69a" stroke-width="0.8" stroke-opacity="0.92"/>
<rect x="659.13" y="266.30" width="2.4" height="14.90" fill="#26a69a"/>
<line x1="663.57" y1="265.50" x2="663.57" y2="282.80" stroke="#ef5350" stroke-width="0.8" stroke-opacity="0.92"/>
<rect x="662.37" y="266.30" width="2.4" height="15.40" fill="#ef5350"/>
<line x1="666.80" y1="278.50" x2="666.80" y2="291.00" stroke="#26a69a" stroke-width="0.8" stroke-opacity="0.92"/>
<rect x="665.60" y="279.60" width="2.4" height="2.10" fill="#26a69a"/>
<line x1="670.04" y1="272.00" x2="670.04" y2="282.10" stroke="#ef5350" stroke-width="0.8" stroke-opacity="0.92"/>
<rect x="668.84" y="279.35" width="2.4" height="0.90" fill="#ef5350"/>
<line x1="673.28" y1="273.20" x2="673.28" y2="282.80" stroke="#26a69a" stroke-width="0.8" stroke-opacity="0.92"/>
<rect x="672.08" y="276.20" width="2.4" height="3.80" fill="#26a69a"/>
<line x1="676.52" y1="258.00" x2="676.52" y2="277.00" stroke="#26a69a" stroke-width="0.8" stroke-opacity="0.92"/>
<rect x="675.32" y="263.10" width="2.4" height="13.10" fill="#26a69a"/>
<line x1="679.76" y1="262.30" x2="679.76" y2="281.50" stroke="#ef5350" stroke-width="0.8" stroke-opacity="0.92"/>
<rect x="678.56" y="263.10" width="2.4" height="10.80" fill="#ef5350"/>
<line x1="683.00" y1="271.30" x2="683.00" y2="281.70" stroke="#ef5350" stroke-width="0.8" stroke-opacity="0.92"/>
<rect x="681.80" y="273.90" width="2.4" height="3.10" fill="#ef5350"/>
<line x1="686.23" y1="270.10" x2="686.23" y2="279.00" stroke="#26a69a" stroke-width="0.8" stroke-opacity="0.92"/>
<rect x="685.03" y="272.00" width="2.4" height="5.00" fill="#26a69a"/>
<line x1="689.47" y1="269.40" x2="689.47" y2="287.80" stroke="#ef5350" stroke-width="0.8" stroke-opacity="0.92"/>
<rect x="688.27" y="272.00" width="2.4" height="7.00" fill="#ef5350"/>
<line x1="692.71" y1="272.60" x2="692.71" y2="282.80" stroke="#ef5350" stroke-width="0.8" stroke-opacity="0.92"/>
<rect x="691.51" y="279.00" width="2.4" height="2.10" fill="#ef5350"/>
<line x1="695.95" y1="210.10" x2="695.95" y2="285.30" stroke="#26a69a" stroke-width="0.8" stroke-opacity="0.92"/>
<rect x="694.75" y="222.20" width="2.4" height="58.90" fill="#26a69a"/>
<line x1="699.19" y1="187.40" x2="699.19" y2="234.70" stroke="#26a69a" stroke-width="0.8" stroke-opacity="0.92"/>
<rect x="697.99" y="203.10" width="2.4" height="19.10" fill="#26a69a"/>
<line x1="702.43" y1="151.40" x2="702.43" y2="204.00" stroke="#26a69a" stroke-width="0.8" stroke-opacity="0.92"/>
<rect x="701.23" y="164.70" width="2.4" height="38.40" fill="#26a69a"/>
<line x1="705.67" y1="150.80" x2="705.67" y2="180.60" stroke="#26a69a" stroke-width="0.8" stroke-opacity="0.92"/>
<rect x="704.47" y="152.10" width="2.4" height="12.60" fill="#26a69a"/>
<line x1="708.90" y1="138.00" x2="708.90" y2="161.00" stroke="#26a69a" stroke-width="0.8" stroke-opacity="0.92"/>
<rect x="707.70" y="148.20" width="2.4" height="3.90" fill="#26a69a"/>
<line x1="712.14" y1="147.50" x2="712.14" y2="176.80" stroke="#ef5350" stroke-width="0.8" stroke-opacity="0.92"/>
<rect x="710.94" y="148.20" width="2.4" height="8.30" fill="#ef5350"/>
<line x1="715.38" y1="155.00" x2="715.38" y2="194.70" stroke="#ef5350" stroke-width="0.8" stroke-opacity="0.92"/>
<rect x="714.18" y="156.50" width="2.4" height="23.10" fill="#ef5350"/>
<line x1="718.62" y1="171.70" x2="718.62" y2="184.00" stroke="#ef5350" stroke-width="0.8" stroke-opacity="0.92"/>
<rect x="717.42" y="179.60" width="2.4" height="3.10" fill="#ef5350"/>
<line x1="721.86" y1="155.00" x2="721.86" y2="185.70" stroke="#26a69a" stroke-width="0.8" stroke-opacity="0.92"/>
<rect x="720.66" y="157.80" width="2.4" height="24.90" fill="#26a69a"/>
<line x1="725.10" y1="152.10" x2="725.10" y2="177.40" stroke="#ef5350" stroke-width="0.8" stroke-opacity="0.92"/>
<rect x="723.90" y="157.80" width="2.4" height="12.00" fill="#ef5350"/>
<line x1="728.34" y1="151.20" x2="728.34" y2="180.60" stroke="#26a69a" stroke-width="0.8" stroke-opacity="0.92"/>
<rect x="727.13" y="167.90" width="2.4" height="1.90" fill="#26a69a"/>
<line x1="731.57" y1="157.10" x2="731.57" y2="173.00" stroke="#ef5350" stroke-width="0.8" stroke-opacity="0.92"/>
<rect x="730.37" y="167.90" width="2.4" height="3.80" fill="#ef5350"/>
<line x1="734.81" y1="167.90" x2="734.81" y2="196.30" stroke="#ef5350" stroke-width="0.8" stroke-opacity="0.92"/>
<rect x="733.61" y="171.70" width="2.4" height="17.30" fill="#ef5350"/>
<line x1="738.05" y1="186.30" x2="738.05" y2="237.40" stroke="#ef5350" stroke-width="0.8" stroke-opacity="0.92"/>
<rect x="736.85" y="189.00" width="2.4" height="17.90" fill="#ef5350"/>
<line x1="741.29" y1="186.00" x2="741.29" y2="209.50" stroke="#26a69a" stroke-width="0.8" stroke-opacity="0.92"/>
<rect x="740.09" y="193.10" width="2.4" height="13.80" fill="#26a69a"/>
<line x1="744.53" y1="186.30" x2="744.53" y2="198.70" stroke="#ef5350" stroke-width="0.8" stroke-opacity="0.92"/>
<rect x="743.33" y="192.90" width="2.4" height="0.90" fill="#ef5350"/>
<line x1="747.77" y1="152.00" x2="747.77" y2="222.80" stroke="#26a69a" stroke-width="0.8" stroke-opacity="0.92"/>
<rect x="746.57" y="153.30" width="2.4" height="40.30" fill="#26a69a"/>
<line x1="751.00" y1="150.20" x2="751.00" y2="202.50" stroke="#ef5350" stroke-width="0.8" stroke-opacity="0.92"/>
<rect x="749.80" y="153.30" width="2.4" height="47.90" fill="#ef5350"/>
<line x1="754.24" y1="193.00" x2="754.24" y2="211.40" stroke="#ef5350" stroke-width="0.8" stroke-opacity="0.92"/>
<rect x="753.04" y="201.20" width="2.4" height="1.90" fill="#ef5350"/>
<line x1="757.48" y1="196.20" x2="757.48" y2="206.30" stroke="#26a69a" stroke-width="0.8" stroke-opacity="0.92"/>
<rect x="756.28" y="202.20" width="2.4" height="0.90" fill="#26a69a"/>
<line x1="760.72" y1="193.00" x2="760.72" y2="211.40" stroke="#ef5350" stroke-width="0.8" stroke-opacity="0.92"/>
<rect x="759.52" y="202.20" width="2.4" height="7.90" fill="#ef5350"/>
<line x1="763.96" y1="202.50" x2="763.96" y2="226.60" stroke="#ef5350" stroke-width="0.8" stroke-opacity="0.92"/>
<rect x="762.76" y="210.10" width="2.4" height="14.60" fill="#ef5350"/>
<line x1="767.20" y1="209.50" x2="767.20" y2="236.10" stroke="#26a69a" stroke-width="0.8" stroke-opacity="0.92"/>
<rect x="766.00" y="213.90" width="2.4" height="10.80" fill="#26a69a"/>
<line x1="770.44" y1="210.10" x2="770.44" y2="220.30" stroke="#ef5350" stroke-width="0.8" stroke-opacity="0.92"/>
<rect x="769.24" y="213.90" width="2.4" height="2.90" fill="#ef5350"/>
<line x1="773.67" y1="197.40" x2="773.67" y2="217.50" stroke="#26a69a" stroke-width="0.8" stroke-opacity="0.92"/>
<rect x="772.47" y="203.80" width="2.4" height="13.00" fill="#26a69a"/>
<line x1="776.91" y1="199.30" x2="776.91" y2="209.50" stroke="#ef5350" stroke-width="0.8" stroke-opacity="0.92"/>
<rect x="775.71" y="203.80" width="2.4" height="4.00" fill="#ef5350"/>
<line x1="780.15" y1="184.40" x2="780.15" y2="212.00" stroke="#26a69a" stroke-width="0.8" stroke-opacity="0.92"/>
<rect x="778.95" y="189.30" width="2.4" height="18.50" fill="#26a69a"/>
<line x1="783.39" y1="182.10" x2="783.39" y2="200.60" stroke="#ef5350" stroke-width="0.8" stroke-opacity="0.92"/>
<rect x="782.19" y="189.30" width="2.4" height="6.20" fill="#ef5350"/>
<line x1="786.63" y1="184.40" x2="786.63" y2="201.90" stroke="#26a69a" stroke-width="0.8" stroke-opacity="0.92"/>
<rect x="785.43" y="194.80" width="2.4" height="0.90" fill="#26a69a"/>
<line x1="789.87" y1="193.00" x2="789.87" y2="210.10" stroke="#ef5350" stroke-width="0.8" stroke-opacity="0.92"/>
<rect x="788.67" y="195.00" width="2.4" height="11.30" fill="#ef5350"/>
<line x1="793.11" y1="200.00" x2="793.11" y2="216.50" stroke="#ef5350" stroke-width="0.8" stroke-opacity="0.92"/>
<rect x="791.90" y="206.30" width="2.4" height="2.10" fill="#ef5350"/>
<line x1="796.34" y1="202.50" x2="796.34" y2="217.10" stroke="#ef5350" stroke-width="0.8" stroke-opacity="0.92"/>
<rect x="795.14" y="208.40" width="2.4" height="6.20" fill="#ef5350"/>
<line x1="799.58" y1="209.80" x2="799.58" y2="236.80" stroke="#ef5350" stroke-width="0.8" stroke-opacity="0.92"/>
<rect x="798.38" y="214.60" width="2.4" height="15.80" fill="#ef5350"/>
<line x1="802.82" y1="220.90" x2="802.82" y2="232.70" stroke="#26a69a" stroke-width="0.8" stroke-opacity="0.92"/>
<rect x="801.62" y="223.80" width="2.4" height="6.60" fill="#26a69a"/>
<line x1="806.06" y1="217.70" x2="806.06" y2="231.00" stroke="#26a69a" stroke-width="0.8" stroke-opacity="0.92"/>
<rect x="804.86" y="222.80" width="2.4" height="1.00" fill="#26a69a"/>
<line x1="809.30" y1="193.20" x2="809.30" y2="224.70" stroke="#26a69a" stroke-width="0.8" stroke-opacity="0.92"/>
<rect x="808.10" y="198.70" width="2.4" height="24.10" fill="#26a69a"/>
<line x1="812.54" y1="178.30" x2="812.54" y2="201.90" stroke="#26a69a" stroke-width="0.8" stroke-opacity="0.92"/>
<rect x="811.34" y="182.90" width="2.4" height="15.80" fill="#26a69a"/>
<line x1="815.77" y1="173.30" x2="815.77" y2="194.60" stroke="#ef5350" stroke-width="0.8" stroke-opacity="0.92"/>
<rect x="814.57" y="182.90" width="2.4" height="3.10" fill="#ef5350"/>
<line x1="819.01" y1="183.50" x2="819.01" y2="205.70" stroke="#ef5350" stroke-width="0.8" stroke-opacity="0.92"/>
<rect x="817.81" y="186.00" width="2.4" height="14.00" fill="#ef5350"/>
<line x1="822.25" y1="185.40" x2="822.25" y2="201.20" stroke="#26a69a" stroke-width="0.8" stroke-opacity="0.92"/>
<rect x="821.05" y="189.80" width="2.4" height="10.20" fill="#26a69a"/>
<line x1="825.49" y1="164.40" x2="825.49" y2="194.30" stroke="#26a69a" stroke-width="0.8" stroke-opacity="0.92"/>
<rect x="824.29" y="171.00" width="2.4" height="18.80" fill="#26a69a"/>
<line x1="828.73" y1="169.50" x2="828.73" y2="186.00" stroke="#ef5350" stroke-width="0.8" stroke-opacity="0.92"/>
<rect x="827.53" y="171.00" width="2.4" height="8.70" fill="#ef5350"/>
<line x1="831.97" y1="175.00" x2="831.97" y2="189.50" stroke="#ef5350" stroke-width="0.8" stroke-opacity="0.92"/>
<rect x="830.77" y="179.70" width="2.4" height="8.90" fill="#ef5350"/>
<line x1="835.21" y1="183.50" x2="835.21" y2="191.70" stroke="#26a69a" stroke-width="0.8" stroke-opacity="0.92"/>
<rect x="834.01" y="186.00" width="2.4" height="2.60" fill="#26a69a"/>
<line x1="838.44" y1="172.10" x2="838.44" y2="187.00" stroke="#26a69a" stroke-width="0.8" stroke-opacity="0.92"/>
<rect x="837.24" y="179.00" width="2.4" height="7.00" fill="#26a69a"/>
<line x1="841.68" y1="173.30" x2="841.68" y2="182.80" stroke="#ef5350" stroke-width="0.8" stroke-opacity="0.92"/>
<rect x="840.48" y="178.90" width="2.4" height="0.90" fill="#ef5350"/>
<line x1="844.92" y1="179.00" x2="844.92" y2="195.50" stroke="#ef5350" stroke-width="0.8" stroke-opacity="0.92"/>
<rect x="843.72" y="179.70" width="2.4" height="9.20" fill="#ef5350"/>
<line x1="848.16" y1="178.40" x2="848.16" y2="192.40" stroke="#26a69a" stroke-width="0.8" stroke-opacity="0.92"/>
<rect x="846.96" y="185.40" width="2.4" height="3.50" fill="#26a69a"/>
<line x1="851.40" y1="180.30" x2="851.40" y2="301.40" stroke="#ef5350" stroke-width="0.8" stroke-opacity="0.92"/>
<rect x="850.20" y="185.40" width="2.4" height="18.40" fill="#ef5350"/>
<line x1="854.64" y1="199.30" x2="854.64" y2="220.90" stroke="#ef5350" stroke-width="0.8" stroke-opacity="0.92"/>
<rect x="853.44" y="203.80" width="2.4" height="7.50" fill="#ef5350"/>
<line x1="857.88" y1="205.00" x2="857.88" y2="218.30" stroke="#26a69a" stroke-width="0.8" stroke-opacity="0.92"/>
<rect x="856.67" y="206.90" width="2.4" height="4.40" fill="#26a69a"/>
<line x1="861.11" y1="204.40" x2="861.11" y2="221.50" stroke="#ef5350" stroke-width="0.8" stroke-opacity="0.92"/>
<rect x="859.91" y="206.90" width="2.4" height="10.80" fill="#ef5350"/>
<line x1="864.35" y1="217.00" x2="864.35" y2="241.20" stroke="#ef5350" stroke-width="0.8" stroke-opacity="0.92"/>
<rect x="863.15" y="217.70" width="2.4" height="5.70" fill="#ef5350"/>
<line x1="867.59" y1="219.00" x2="867.59" y2="244.30" stroke="#ef5350" stroke-width="0.8" stroke-opacity="0.92"/>
<rect x="866.39" y="223.40" width="2.4" height="19.00" fill="#ef5350"/>
<line x1="870.83" y1="239.00" x2="870.83" y2="265.00" stroke="#ef5350" stroke-width="0.8" stroke-opacity="0.92"/>
<rect x="869.63" y="242.40" width="2.4" height="17.10" fill="#ef5350"/>
<line x1="874.07" y1="252.00" x2="874.07" y2="261.40" stroke="#26a69a" stroke-width="0.8" stroke-opacity="0.92"/>
<rect x="872.87" y="258.20" width="2.4" height="1.30" fill="#26a69a"/>
<line x1="877.31" y1="257.90" x2="877.31" y2="270.00" stroke="#ef5350" stroke-width="0.8" stroke-opacity="0.92"/>
<rect x="876.11" y="258.20" width="2.4" height="6.80" fill="#ef5350"/>
<line x1="706" y1="137.9" x2="874.3" y2="182.3" stroke="#131722" stroke-width="1.5" stroke-linecap="round"/>
<line x1="7" y1="264.7" x2="977" y2="264.7" stroke="#ef5350" stroke-width="0.9" stroke-dasharray="1 1.6" stroke-opacity="0.65"/>
</g>
<text x="882.8" y="29.00" font-size="8.4" fill="#ff9800" textLength="54.8" lengthAdjust="spacingAndGlyphs">1.272 (3.8721)</text>
<text x="882.8" y="52.80" font-size="8.4" fill="#787b86" textLength="39.2" lengthAdjust="spacingAndGlyphs">1 (3.0910)</text>
<text x="882.8" y="76.00" font-size="8.4" fill="#00bcd4" textLength="54.8" lengthAdjust="spacingAndGlyphs">0.786 (2.4765)</text>
<text x="882.8" y="98.10" font-size="8.4" fill="#089981" textLength="54.8" lengthAdjust="spacingAndGlyphs">0.618 (1.9940)</text>
<text x="882.8" y="117.50" font-size="8.4" fill="#4caf50" textLength="45.2" lengthAdjust="spacingAndGlyphs">0.5 (1.6552)</text>
<text x="882.8" y="141.60" font-size="8.4" fill="#ff9800" textLength="54.8" lengthAdjust="spacingAndGlyphs">0.382 (1.3163)</text>
<text x="882.8" y="181.30" font-size="8.4" fill="#f23645" textLength="54.8" lengthAdjust="spacingAndGlyphs">0.236 (0.8971)</text>
<text x="882.8" y="327.90" font-size="8.4" fill="#787b86" textLength="38.5" lengthAdjust="spacingAndGlyphs">0 (0.2194)</text>
<g clip-path="url(#cpOB)">
<path d="M6.9,389.2 L12.5,389.2 L15.6,392.4 L18.8,390.1 L22.2,391.8 L25.6,382.0 L28.1,379.5 L31.2,382.6 L35.0,382.0 L38.8,381.8 L41.2,383.2 L44.4,379.5 L47.5,371.4 L51.2,367.2 L55.0,373.2 L57.8,373.9 L60.6,367.0 L63.1,365.8 L66.2,365.4 L70.0,365.8 L73.1,367.6 L76.2,374.5 L80.0,373.2 L86.2,373.0 L92.5,372.2 L96.9,381.8 L100.0,377.0 L103.8,372.0 L106.6,368.9 L109.8,388.9 L113.1,385.8 L116.2,385.1 L119.4,387.0 L120.0,387.6 L125.6,390.5 L129.4,388.6 L136.2,393.2 L142.5,391.0 L146.2,388.5 L149.4,380.5 L153.1,377.0 L158.8,376.4 L162.5,383.2 L166.2,386.4 L172.5,387.0 L180.0,388.9 L184.4,391.8 L190.6,390.5 L195.0,394.8 L200.0,399.8 L206.9,402.2 L210.0,398.2 L213.1,399.2 L216.2,401.8 L220.0,397.4 L223.8,401.0 L226.2,402.0 L230.0,399.9 L235.0,402.2 L239.4,403.8 L240.0,403.2 L246.2,404.5 L249.4,400.1 L252.5,395.5 L255.6,395.5 L260.0,398.9 L265.0,400.8 L270.0,402.6 L276.2,405.1 L281.2,406.6 L285.0,403.9 L288.8,405.4 L295.0,405.4 L303.8,405.4 L307.5,402.6 L313.1,402.0 L316.5,400.1 L320.6,403.2 L323.8,403.5 L326.2,400.5 L330.6,400.1 L333.8,402.2 L338.8,402.6 L343.8,403.2 L348.8,405.1 L353.1,402.0 L356.2,402.2 L359.4,404.9 L360.0,405.5 L365.0,405.5 L368.8,404.8 L375.0,407.2 L381.2,407.6 L384.4,403.9 L388.1,398.5 L394.4,394.5 L398.8,395.5 L401.2,397.2 L404.4,394.2 L410.0,398.2 L413.8,399.2 L420.0,396.8 L423.8,393.9 L426.2,393.2 L430.2,388.2 L433.1,393.5 L437.5,393.2 L441.2,395.1 L446.2,396.4 L449.4,393.5 L453.1,394.8 L456.9,402.6 L459.4,403.5 L463.1,400.1 L469.4,400.1 L471.9,397.2 L477.5,396.4 L479.8,398.0 L480.0,398.9 L485.0,399.5 L488.8,401.4 L496.2,403.2 L503.8,404.5 L508.1,399.2 L510.6,401.0 L515.0,401.8 L517.5,398.9 L522.5,390.1 L526.9,383.2 L531.2,382.6 L536.9,381.8 L540.6,371.0 L543.8,372.6 L549.4,372.2 L552.5,383.2 L556.2,383.9 L561.2,386.4 L566.2,386.4 L570.0,382.6 L573.1,379.2 L576.0,381.8 L579.4,376.0 L583.1,377.6 L588.8,383.5 L591.9,383.9 L595.0,388.2 L598.8,396.8 L600.0,396.0 L602.5,395.1 L605.6,397.2 L609.4,397.4 L611.9,398.5 L615.0,396.0 L618.8,396.4 L621.2,397.6 L624.4,397.6 L630.0,401.8 L634.4,400.8 L637.2,403.6 L640.6,396.0 L643.1,394.2 L646.9,397.0 L650.6,401.0 L653.8,402.6 L657.5,401.4 L660.0,397.0 L663.8,400.5 L668.1,399.5 L672.5,398.5 L676.2,394.2 L680.0,397.6 L683.1,397.6 L685.6,396.0 L689.4,398.2 L692.5,398.5 L694.4,387.0 L696.2,381.4 L698.8,378.2 L701.9,372.6 L704.4,370.5 L708.1,369.5 L711.9,374.5 L715.0,384.5 L718.1,385.1 L720.0,382.6 L721.5,380.5 L725.0,385.5 L728.8,384.2 L732.5,387.6 L737.5,394.8 L740.6,392.6 L743.8,392.0 L747.5,384.2 L751.2,394.5 L757.5,394.5 L763.8,397.6 L767.5,395.5 L770.0,396.0 L773.8,393.2 L776.2,394.2 L780.0,391.0 L783.8,392.4 L786.9,392.4 L790.0,394.2 L795.0,395.8 L799.4,398.9 L802.5,397.6 L806.2,397.0 L809.4,391.0 L812.5,388.0 L815.0,388.9 L819.4,392.6 L825.0,386.0 L827.5,386.8 L831.9,391.8 L837.5,388.9 L841.2,389.2 L845.0,392.0 L848.0,391.4 L850.0,393.9 L851.2,395.5 L853.8,397.6 L857.5,396.0 L861.2,398.9 L864.4,400.1 L870.0,404.5 L875.0,404.5 L876.9,405.8 L876.9,379.25 L6.9,379.25 Z" fill="url(#gOB)"/>
</g>
<g clip-path="url(#cpRsi)">
<polyline points="6.9,383.9 12.5,386.4 18.8,388.9 25.0,389.8 31.2,388.9 37.5,387.0 43.8,384.5 50.0,382.0 56.2,378.9 62.5,375.8 68.8,373.2 75.0,371.8 81.2,370.8 87.5,370.2 93.8,370.2 100.0,371.0 106.2,372.0 112.5,375.1 118.8,377.6 120.0,378.0 126.2,380.5 132.5,382.6 138.8,385.1 145.0,387.0 151.9,388.0 157.5,386.4 163.8,385.8 170.0,385.5 176.2,385.4 182.5,384.9 190.0,384.9 195.0,386.0 201.2,389.2 207.5,392.2 215.0,394.5 222.5,396.4 230.0,398.5 237.5,400.5 240.0,401.8 246.2,401.8 252.5,400.5 258.8,400.1 265.0,400.5 277.5,401.5 290.0,402.2 300.0,403.2 307.5,404.5 315.0,404.8 322.5,404.2 330.0,403.2 340.0,402.8 350.0,402.2 357.5,402.2 360.0,402.6 370.0,403.6 378.8,404.5 383.8,405.1 391.2,403.5 403.8,401.4 416.2,398.9 425.0,396.8 431.2,395.1 441.2,394.8 453.8,395.1 466.2,396.0 475.0,397.2 480.0,398.0 487.5,399.2 496.2,400.2 505.0,400.5 513.8,400.8 522.5,400.1 530.0,397.6 537.5,393.9 545.0,388.9 552.5,384.8 560.0,382.0 567.5,380.8 575.0,380.4 582.5,379.8 590.0,382.0 597.5,383.9 600.0,384.5 607.5,386.4 615.0,388.9 622.5,392.0 630.0,395.1 637.5,398.0 645.0,398.2 652.5,398.8 660.0,399.2 667.5,399.5 675.0,399.2 682.5,398.5 692.5,398.5 697.5,396.4 705.0,391.4 712.5,387.0 718.8,385.0 720.0,385.1 727.5,382.6 735.0,381.1 740.0,381.8 747.5,384.5 755.0,388.2 762.5,390.5 770.0,392.4 777.5,393.2 785.0,393.2 792.5,394.2 800.0,395.5 806.2,395.5 812.5,393.9 820.0,393.0 827.5,392.6 835.0,392.0 842.5,391.4 848.0,390.8 852.5,390.5 860.0,391.8 866.2,393.2 871.2,395.1 876.9,397.2" fill="none" stroke="#fdd835" stroke-width="0.85" stroke-opacity="0.9" stroke-linejoin="round" stroke-linecap="round"/>
<polyline points="6.9,389.2 12.5,389.2 15.6,392.4 18.8,390.1 22.2,391.8 25.6,382.0 28.1,379.5 31.2,382.6 35.0,382.0 38.8,381.8 41.2,383.2 44.4,379.5 47.5,371.4 51.2,367.2 55.0,373.2 57.8,373.9 60.6,367.0 63.1,365.8 66.2,365.4 70.0,365.8 73.1,367.6 76.2,374.5 80.0,373.2 86.2,373.0 92.5,372.2 96.9,381.8 100.0,377.0 103.8,372.0 106.6,368.9 109.8,388.9 113.1,385.8 116.2,385.1 119.4,387.0 120.0,387.6 125.6,390.5 129.4,388.6 136.2,393.2 142.5,391.0 146.2,388.5 149.4,380.5 153.1,377.0 158.8,376.4 162.5,383.2 166.2,386.4 172.5,387.0 180.0,388.9 184.4,391.8 190.6,390.5 195.0,394.8 200.0,399.8 206.9,402.2 210.0,398.2 213.1,399.2 216.2,401.8 220.0,397.4 223.8,401.0 226.2,402.0 230.0,399.9 235.0,402.2 239.4,403.8 240.0,403.2 246.2,404.5 249.4,400.1 252.5,395.5 255.6,395.5 260.0,398.9 265.0,400.8 270.0,402.6 276.2,405.1 281.2,406.6 285.0,403.9 288.8,405.4 295.0,405.4 303.8,405.4 307.5,402.6 313.1,402.0 316.5,400.1 320.6,403.2 323.8,403.5 326.2,400.5 330.6,400.1 333.8,402.2 338.8,402.6 343.8,403.2 348.8,405.1 353.1,402.0 356.2,402.2 359.4,404.9 360.0,405.5 365.0,405.5 368.8,404.8 375.0,407.2 381.2,407.6 384.4,403.9 388.1,398.5 394.4,394.5 398.8,395.5 401.2,397.2 404.4,394.2 410.0,398.2 413.8,399.2 420.0,396.8 423.8,393.9 426.2,393.2 430.2,388.2 433.1,393.5 437.5,393.2 441.2,395.1 446.2,396.4 449.4,393.5 453.1,394.8 456.9,402.6 459.4,403.5 463.1,400.1 469.4,400.1 471.9,397.2 477.5,396.4 479.8,398.0 480.0,398.9 485.0,399.5 488.8,401.4 496.2,403.2 503.8,404.5 508.1,399.2 510.6,401.0 515.0,401.8 517.5,398.9 522.5,390.1 526.9,383.2 531.2,382.6 536.9,381.8 540.6,371.0 543.8,372.6 549.4,372.2 552.5,383.2 556.2,383.9 561.2,386.4 566.2,386.4 570.0,382.6 573.1,379.2 576.0,381.8 579.4,376.0 583.1,377.6 588.8,383.5 591.9,383.9 595.0,388.2 598.8,396.8 600.0,396.0 602.5,395.1 605.6,397.2 609.4,397.4 611.9,398.5 615.0,396.0 618.8,396.4 621.2,397.6 624.4,397.6 630.0,401.8 634.4,400.8 637.2,403.6 640.6,396.0 643.1,394.2 646.9,397.0 650.6,401.0 653.8,402.6 657.5,401.4 660.0,397.0 663.8,400.5 668.1,399.5 672.5,398.5 676.2,394.2 680.0,397.6 683.1,397.6 685.6,396.0 689.4,398.2 692.5,398.5 694.4,387.0 696.2,381.4 698.8,378.2 701.9,372.6 704.4,370.5 708.1,369.5 711.9,374.5 715.0,384.5 718.1,385.1 720.0,382.6 721.5,380.5 725.0,385.5 728.8,384.2 732.5,387.6 737.5,394.8 740.6,392.6 743.8,392.0 747.5,384.2 751.2,394.5 757.5,394.5 763.8,397.6 767.5,395.5 770.0,396.0 773.8,393.2 776.2,394.2 780.0,391.0 783.8,392.4 786.9,392.4 790.0,394.2 795.0,395.8 799.4,398.9 802.5,397.6 806.2,397.0 809.4,391.0 812.5,388.0 815.0,388.9 819.4,392.6 825.0,386.0 827.5,386.8 831.9,391.8 837.5,388.9 841.2,389.2 845.0,392.0 848.0,391.4 850.0,393.9 851.2,395.5 853.8,397.6 857.5,396.0 861.2,398.9 864.4,400.1 870.0,404.5 875.0,404.5 876.9,405.8" fill="none" stroke="#7e57c2" stroke-width="0.85" stroke-opacity="0.95" stroke-linejoin="round" stroke-linecap="round"/>
</g>
<rect x="6.6" y="18.8" width="1010.4" height="411.3" fill="none" stroke="#eceef3" stroke-width="1"/>
<line x1="7" y1="366.75" x2="1017" y2="366.75" stroke="#eceef3" stroke-width="1"/>
<line x1="7" y1="411.5" x2="1017" y2="411.5" stroke="#8e8f94" stroke-width="1"/>
<line x1="977.8" y1="19" x2="977.8" y2="430.3" stroke="#a0a3ac" stroke-width="1.5"/>
<text x="984" y="54.90" font-size="8.0" fill="#131722" fill-opacity="0.85" textLength="23" lengthAdjust="spacingAndGlyphs">3.0000</text>
<text x="984" y="78.15" font-size="8.0" fill="#131722" fill-opacity="0.85" textLength="23" lengthAdjust="spacingAndGlyphs">2.4000</text>
<text x="984" y="108.13" font-size="8.0" fill="#131722" fill-opacity="0.85" textLength="23" lengthAdjust="spacingAndGlyphs">1.8000</text>
<text x="984" y="134.31" font-size="8.0" fill="#131722" fill-opacity="0.85" textLength="23" lengthAdjust="spacingAndGlyphs">1.4000</text>
<text x="984" y="159.44" font-size="8.0" fill="#131722" fill-opacity="0.85" textLength="23" lengthAdjust="spacingAndGlyphs">1.1000</text>
<text x="984" y="180.35" font-size="8.0" fill="#131722" fill-opacity="0.85" textLength="23" lengthAdjust="spacingAndGlyphs">0.9000</text>
<text x="984" y="206.54" font-size="8.0" fill="#131722" fill-opacity="0.85" textLength="23" lengthAdjust="spacingAndGlyphs">0.7000</text>
<text x="984" y="231.67" font-size="8.0" fill="#131722" fill-opacity="0.85" textLength="23" lengthAdjust="spacingAndGlyphs">0.5500</text>
<text x="984" y="252.58" font-size="8.0" fill="#131722" fill-opacity="0.85" textLength="23" lengthAdjust="spacingAndGlyphs">0.4500</text>
<text x="984" y="298.36" font-size="8.0" fill="#131722" fill-opacity="0.85" textLength="23" lengthAdjust="spacingAndGlyphs">0.2900</text>
<text x="984" y="322.52" font-size="8.0" fill="#131722" fill-opacity="0.85" textLength="23" lengthAdjust="spacingAndGlyphs">0.2300</text>
<text x="984" y="342.42" font-size="8.0" fill="#131722" fill-opacity="0.85" textLength="23" lengthAdjust="spacingAndGlyphs">0.1900</text>
<text x="984" y="363.64" font-size="8.0" fill="#131722" fill-opacity="0.85" textLength="23" lengthAdjust="spacingAndGlyphs">0.1550</text>
<text x="984" y="375.40" font-size="8.0" fill="#131722" fill-opacity="0.85" textLength="19.2" lengthAdjust="spacingAndGlyphs">80.00</text>
<text x="984" y="403.10" font-size="8.0" fill="#131722" fill-opacity="0.85" textLength="19.2" lengthAdjust="spacingAndGlyphs">40.00</text>
<rect x="980.4" y="21.6" width="34" height="17.8" rx="2" fill="#ffffff" stroke="#ebedf2" stroke-width="1"/>
<text x="997.4" y="33.4" font-size="8.8" font-weight="700" fill="#131722" text-anchor="middle" textLength="20" lengthAdjust="spacingAndGlyphs">USDT</text>
<rect x="940.1" y="258.9" width="37.8" height="11.5" rx="1.8" fill="#ef5350"/>
<text x="943" y="267.7" font-size="8.1" fill="#ffffff" textLength="30.7" lengthAdjust="spacingAndGlyphs">ADAUSDT</text>
<rect x="977.9" y="258.9" width="32.1" height="20.5" rx="1.8" fill="#ef5350"/>
<text x="983.8" y="267.7" font-size="8.1" fill="#ffffff" textLength="23.1" lengthAdjust="spacingAndGlyphs">0.3898</text>
<text x="983.8" y="276.8" font-size="8.1" fill="#ffffff" fill-opacity="0.92" textLength="23.1" lengthAdjust="spacingAndGlyphs">5d 18h</text>
<line x1="977.8" y1="258.9" x2="977.8" y2="279.4" stroke="#a0474e" stroke-opacity="0.55" stroke-width="1.3"/>
<g clip-path="url(#cpTime)">
<text x="48.25" y="423.4" font-size="7.8" font-weight="700" fill="#131722" fill-opacity="0.9" text-anchor="middle" textLength="16.8" lengthAdjust="spacingAndGlyphs">2021</text>
<text x="132.45" y="423.4" font-size="7.8" fill="#131722" fill-opacity="0.85" text-anchor="middle" textLength="9.6" lengthAdjust="spacingAndGlyphs">Jul</text>
<text x="216.65" y="423.4" font-size="7.8" font-weight="700" fill="#131722" fill-opacity="0.9" text-anchor="middle" textLength="16.8" lengthAdjust="spacingAndGlyphs">2022</text>
<text x="300.85" y="423.4" font-size="7.8" fill="#131722" fill-opacity="0.85" text-anchor="middle" textLength="9.6" lengthAdjust="spacingAndGlyphs">Jul</text>
<text x="385.05" y="423.4" font-size="7.8" font-weight="700" fill="#131722" fill-opacity="0.9" text-anchor="middle" textLength="16.8" lengthAdjust="spacingAndGlyphs">2023</text>
<text x="469.25" y="423.4" font-size="7.8" fill="#131722" fill-opacity="0.85" text-anchor="middle" textLength="9.6" lengthAdjust="spacingAndGlyphs">Jul</text>
<text x="553.46" y="423.4" font-size="7.8" font-weight="700" fill="#131722" fill-opacity="0.9" text-anchor="middle" textLength="16.8" lengthAdjust="spacingAndGlyphs">2024</text>
<text x="637.66" y="423.4" font-size="7.8" fill="#131722" fill-opacity="0.85" text-anchor="middle" textLength="9.6" lengthAdjust="spacingAndGlyphs">Jul</text>
<text x="725.10" y="423.4" font-size="7.8" font-weight="700" fill="#131722" fill-opacity="0.9" text-anchor="middle" textLength="16.8" lengthAdjust="spacingAndGlyphs">2025</text>
<text x="809.30" y="423.4" font-size="7.8" fill="#131722" fill-opacity="0.85" text-anchor="middle" textLength="9.6" lengthAdjust="spacingAndGlyphs">Jul</text>
<text x="893.50" y="423.4" font-size="7.8" font-weight="700" fill="#131722" fill-opacity="0.9" text-anchor="middle" textLength="16.8" lengthAdjust="spacingAndGlyphs">2026</text>
<text x="977.70" y="423.4" font-size="7.8" fill="#131722" fill-opacity="0.85" text-anchor="middle" textLength="9.6" lengthAdjust="spacingAndGlyphs">Jul</text>
</g>
<text x="7.3" y="13.9" font-size="8.7" fill="#0d0f14" stroke="#0d0f14" stroke-width="0.22" textLength="276.7" lengthAdjust="spacingAndGlyphs">Jake_Simmons created with TradingView.com, Dec 02, 2025 01:10 UTC-5</text>
<text x="12.4" y="32.5" font-size="8.4" fill="#3c3f47" stroke="#3c3f47" stroke-width="0.12" textLength="132.6" lengthAdjust="spacingAndGlyphs">Cardano / TetherUS · 1W · Binance</text>
<text x="150.6" y="32.5" font-size="8.4" fill="#3c3f47" stroke="#3c3f47" stroke-width="0.12" textLength="5.5" lengthAdjust="spacingAndGlyphs">O</text>
<text x="156.2" y="32.5" font-size="8.4" fill="#f0434f" stroke="#f0434f" stroke-width="0.12" textLength="25" lengthAdjust="spacingAndGlyphs">0.4142</text>
<text x="187.3" y="32.5" font-size="8.4" fill="#3c3f47" stroke="#3c3f47" stroke-width="0.12" textLength="4.9" lengthAdjust="spacingAndGlyphs">H</text>
<text x="192.5" y="32.5" font-size="8.4" fill="#f0434f" stroke="#f0434f" stroke-width="0.12" textLength="25" lengthAdjust="spacingAndGlyphs">0.4158</text>
<text x="223.3" y="32.5" font-size="8.4" fill="#3c3f47" stroke="#3c3f47" stroke-width="0.12" textLength="3.6" lengthAdjust="spacingAndGlyphs">L</text>
<text x="227" y="32.5" font-size="8.4" fill="#f0434f" stroke="#f0434f" stroke-width="0.12" textLength="25" lengthAdjust="spacingAndGlyphs">0.3707</text>
<text x="258.3" y="32.5" font-size="8.4" fill="#3c3f47" stroke="#3c3f47" stroke-width="0.12" textLength="4.6" lengthAdjust="spacingAndGlyphs">C</text>
<text x="262.8" y="32.5" font-size="8.4" fill="#f0434f" stroke="#f0434f" stroke-width="0.12" textLength="25" lengthAdjust="spacingAndGlyphs">0.3898</text>
<text x="294.2" y="32.5" font-size="8.4" fill="#f0434f" stroke="#f0434f" stroke-width="0.12" textLength="64.3" lengthAdjust="spacingAndGlyphs">−0.0245 (−5.91%)</text>
<text x="12.4" y="44.2" font-size="8.4" fill="#3c3f47" stroke="#3c3f47" stroke-width="0.12" textLength="34.6" lengthAdjust="spacingAndGlyphs">Vol · ADA</text>
<text x="52.7" y="44.2" font-size="8.4" fill="#f0434f" stroke="#f0434f" stroke-width="0.12" textLength="21.3" lengthAdjust="spacingAndGlyphs">231 M</text>
<text x="12.4" y="56.1" font-size="8.4" fill="#3c3f47" stroke="#3c3f47" stroke-width="0.12" textLength="76.2" lengthAdjust="spacingAndGlyphs">EMA 20/50/100/200</text>
<text x="93.7" y="56.1" font-size="8.4" fill="#ff1f1f" stroke="#ff1f1f" stroke-width="0.12" textLength="25.2" lengthAdjust="spacingAndGlyphs">0.6320</text>
<text x="124.3" y="56.1" font-size="8.4" fill="#ff9326" stroke="#ff9326" stroke-width="0.12" textLength="25.2" lengthAdjust="spacingAndGlyphs">0.6743</text>
<text x="155" y="56.1" font-size="8.4" fill="#19e0f5" stroke="#19e0f5" stroke-width="0.12" textLength="24.6" lengthAdjust="spacingAndGlyphs">0.6451</text>
<text x="186.2" y="56.1" font-size="8.4" fill="#1a1aff" stroke="#1a1aff" stroke-width="0.12" textLength="25" lengthAdjust="spacingAndGlyphs">0.5768</text>
<text x="12.5" y="381.0" font-size="8.4" fill="#3c3f47" stroke="#3c3f47" stroke-width="0.12" textLength="53.5" lengthAdjust="spacingAndGlyphs">RSI (14, close)</text>
<text x="72.5" y="381.0" font-size="8.4" fill="#7e57c2" stroke="#7e57c2" stroke-width="0.12" textLength="20" lengthAdjust="spacingAndGlyphs">33.08</text>
<text x="97.8" y="381.0" font-size="8.4" fill="#fdd835" stroke="#fdd835" stroke-width="0.12" textLength="20" lengthAdjust="spacingAndGlyphs">44.69</text>
<text x="124.8" y="381.0" font-size="8.4" fill="#3c3f47" stroke="#3c3f47" stroke-width="0.12" textLength="6" lengthAdjust="spacingAndGlyphs">∅</text>
<text x="138.2" y="381.0" font-size="8.4" fill="#3c3f47" stroke="#3c3f47" stroke-width="0.12" textLength="6" lengthAdjust="spacingAndGlyphs">∅</text>
<g transform="translate(8.05,443.9) scale(0.58)" fill="#0b0d12"><path d="M14 22H7V11H0V4h14v18z"/><circle cx="20" cy="8" r="4"/><path d="M28 22h-8l7.5-18h8L28 22z"/></g>
<text x="34.2" y="456.5" font-size="14.2" font-weight="700" fill="#0b0d12" textLength="85.2" lengthAdjust="spacingAndGlyphs">TradingView</text>
</svg>
</body></html>
